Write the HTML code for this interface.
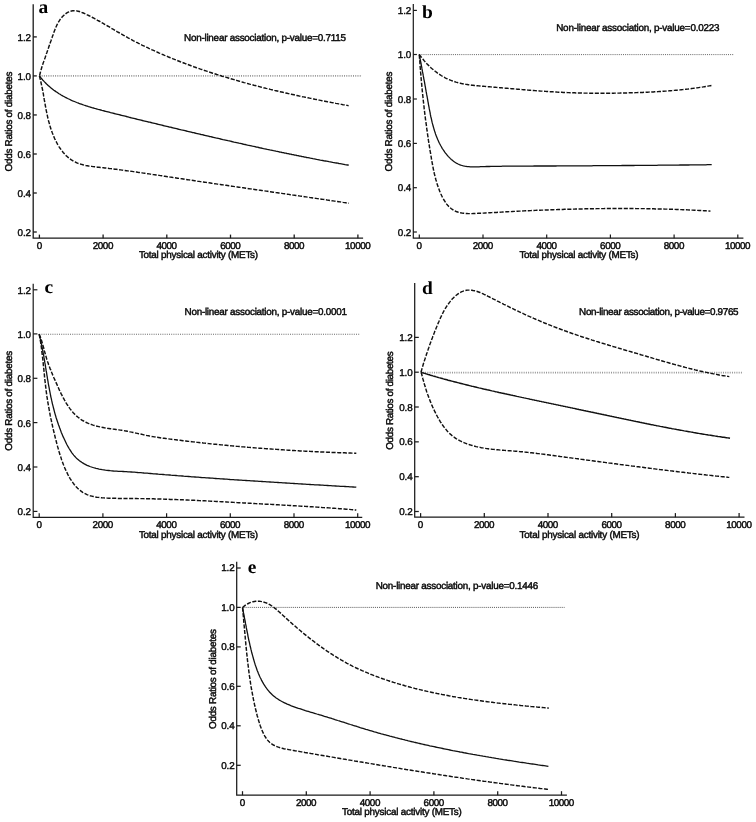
<!DOCTYPE html>
<html lang="en">
<head>
<meta charset="utf-8">
<title>Odds Ratios of diabetes by total physical activity</title>
<style>
html,body{margin:0;padding:0;background:#fff;}
body{width:756px;height:822px;overflow:hidden;}
svg{display:block;}
svg text{text-rendering:geometricPrecision;font-family:"Liberation Sans", Arial, Helvetica, sans-serif;font-size:9.9px;fill:#0a0a0a;stroke:#0a0a0a;stroke-width:.45px;}
svg text.yl{stroke-width:.4px;letter-spacing:-.1px;}
svg text.lt{font-family:"Liberation Serif", "Times New Roman", serif;font-weight:bold;fill:#000;stroke:none;}
</style>
</head>
<body>
<svg width="756" height="822" viewBox="0 0 756 822">
<rect width="756" height="822" fill="#ffffff"/>
<line x1="39.4" y1="75.9" x2="362" y2="75.9" stroke="#969696" stroke-width="1.7" stroke-dasharray="1 1.24"/>
<path d="M33.2,4.2 V238.2 H363.1" fill="none" stroke="#1a1a1a" stroke-width="1.3"/>
<line x1="33.2" y1="36.9" x2="36.800000000000004" y2="36.9" stroke="#1a1a1a" stroke-width="1.3"/>
<text x="31.0" y="40.5" text-anchor="end" class="yl">1.2</text>
<line x1="33.2" y1="75.9" x2="36.800000000000004" y2="75.9" stroke="#1a1a1a" stroke-width="1.3"/>
<text x="31.0" y="79.5" text-anchor="end" class="yl">1.0</text>
<line x1="33.2" y1="114.95" x2="36.800000000000004" y2="114.95" stroke="#1a1a1a" stroke-width="1.3"/>
<text x="31.0" y="118.55" text-anchor="end" class="yl">0.8</text>
<line x1="33.2" y1="154" x2="36.800000000000004" y2="154" stroke="#1a1a1a" stroke-width="1.3"/>
<text x="31.0" y="157.6" text-anchor="end" class="yl">0.6</text>
<line x1="33.2" y1="193" x2="36.800000000000004" y2="193" stroke="#1a1a1a" stroke-width="1.3"/>
<text x="31.0" y="196.6" text-anchor="end" class="yl">0.4</text>
<line x1="33.2" y1="232" x2="36.800000000000004" y2="232" stroke="#1a1a1a" stroke-width="1.3"/>
<text x="31.0" y="235.6" text-anchor="end" class="yl">0.2</text>
<line x1="39.40" y1="238.2" x2="39.40" y2="234.6" stroke="#1a1a1a" stroke-width="1.3"/>
<text x="39.40" y="248.89999999999998" text-anchor="middle" textLength="5.1" lengthAdjust="spacing">0</text>
<line x1="103.10" y1="238.2" x2="103.10" y2="234.6" stroke="#1a1a1a" stroke-width="1.3"/>
<text x="103.10" y="248.89999999999998" text-anchor="middle" textLength="20.6" lengthAdjust="spacing">2000</text>
<line x1="166.80" y1="238.2" x2="166.80" y2="234.6" stroke="#1a1a1a" stroke-width="1.3"/>
<text x="166.80" y="248.89999999999998" text-anchor="middle" textLength="20.6" lengthAdjust="spacing">4000</text>
<line x1="230.50" y1="238.2" x2="230.50" y2="234.6" stroke="#1a1a1a" stroke-width="1.3"/>
<text x="230.50" y="248.89999999999998" text-anchor="middle" textLength="20.6" lengthAdjust="spacing">6000</text>
<line x1="294.20" y1="238.2" x2="294.20" y2="234.6" stroke="#1a1a1a" stroke-width="1.3"/>
<text x="294.20" y="248.89999999999998" text-anchor="middle" textLength="20.6" lengthAdjust="spacing">8000</text>
<line x1="357.90" y1="238.2" x2="357.90" y2="234.6" stroke="#1a1a1a" stroke-width="1.3"/>
<text x="357.90" y="248.89999999999998" text-anchor="middle" textLength="25.6" lengthAdjust="spacing">10000</text>
<text x="198.5" y="258.3" text-anchor="middle" textLength="119.2" lengthAdjust="spacing">Total physical activity (METs)</text>
<text transform="translate(11.9,121.5) rotate(-90)" text-anchor="middle" textLength="100" lengthAdjust="spacing">Odds Ratios of diabetes</text>
<text x="346" y="41.3" text-anchor="end" textLength="162" lengthAdjust="spacing">Non-linear association, p-value=0.7115</text>
<text transform="translate(38.6,12.8) scale(1.05,1)" class="lt" style="font-size:18.5px">a</text>
<path d="M39.4,75.9 L40.2,76.9 L41.0,78.0 L41.9,79.0 L42.7,80.0 L43.6,80.9 L44.5,81.9 L45.4,82.8 L46.3,83.7 L47.2,84.6 L48.1,85.4 L49.1,86.3 L50.0,87.1 L51.0,87.9 L52.0,88.7 L52.9,89.4 L53.9,90.2 L54.9,90.9 L55.9,91.6 L57.0,92.3 L58.0,93.0 L59.0,93.7 L60.1,94.3 L61.1,95.0 L62.2,95.6 L63.3,96.2 L64.4,96.8 L65.4,97.4 L66.5,97.9 L67.6,98.5 L68.8,99.0 L69.9,99.5 L71.0,100.1 L72.1,100.6 L73.3,101.1 L74.4,101.5 L75.6,102.0 L76.7,102.5 L77.9,102.9 L79.0,103.4 L80.2,103.8 L81.4,104.2 L82.6,104.6 L83.7,105.0 L84.9,105.4 L86.1,105.8 L87.3,106.2 L88.5,106.6 L89.7,106.9 L90.9,107.3 L92.1,107.7 L93.3,108.0 L94.6,108.4 L95.8,108.7 L97.0,109.0 L98.2,109.4 L99.4,109.7 L100.7,110.0 L101.9,110.4 L103.1,110.7 L104.3,111.0 L105.6,111.3 L106.8,111.6 L108.0,111.9 L109.2,112.2 L110.5,112.6 L111.7,112.9 L112.9,113.2 L114.2,113.5 L115.4,113.8 L116.6,114.1 L117.8,114.4 L119.1,114.7 L120.3,115.0 L121.5,115.3 L122.7,115.6 L124.0,115.9 L125.2,116.2 L126.4,116.5 L127.7,116.8 L128.9,117.2 L130.1,117.5 L131.3,117.8 L132.5,118.1 L133.8,118.4 L135.0,118.7 L136.2,119.0 L137.4,119.3 L138.7,119.6 L139.9,119.9 L141.1,120.2 L142.3,120.5 L143.6,120.8 L144.8,121.1 L146.0,121.4 L147.2,121.7 L148.5,122.0 L149.7,122.2 L150.9,122.5 L152.1,122.8 L153.3,123.1 L154.6,123.4 L155.8,123.7 L157.0,124.0 L158.2,124.3 L159.5,124.6 L160.7,124.9 L161.9,125.2 L163.1,125.5 L164.3,125.8 L165.6,126.1 L166.8,126.4 L168.0,126.7 L169.2,127.0 L170.4,127.2 L171.7,127.5 L172.9,127.8 L174.1,128.1 L175.3,128.4 L176.6,128.7 L177.8,129.0 L179.0,129.3 L180.2,129.6 L181.4,129.9 L182.7,130.1 L183.9,130.4 L185.1,130.7 L186.3,131.0 L187.6,131.3 L188.8,131.6 L190.0,131.9 L191.2,132.2 L192.4,132.5 L193.7,132.7 L194.9,133.0 L196.1,133.3 L197.3,133.6 L198.6,133.9 L199.8,134.2 L201.0,134.5 L202.2,134.7 L203.5,135.0 L204.7,135.3 L205.9,135.6 L207.1,135.9 L208.4,136.2 L209.6,136.5 L210.8,136.7 L212.0,137.0 L213.3,137.3 L214.5,137.6 L215.7,137.9 L216.9,138.1 L218.2,138.4 L219.4,138.7 L220.6,139.0 L221.8,139.3 L223.1,139.6 L224.3,139.8 L225.5,140.1 L226.7,140.4 L228.0,140.7 L229.2,140.9 L230.4,141.2 L231.7,141.5 L232.9,141.8 L234.1,142.1 L235.3,142.3 L236.6,142.6 L237.8,142.9 L239.0,143.2 L240.2,143.4 L241.5,143.7 L242.7,144.0 L243.9,144.3 L245.2,144.5 L246.4,144.8 L247.6,145.1 L248.8,145.3 L250.1,145.6 L251.3,145.9 L252.5,146.2 L253.8,146.4 L255.0,146.7 L256.2,147.0 L257.5,147.2 L258.7,147.5 L259.9,147.8 L261.1,148.0 L262.4,148.3 L263.6,148.6 L264.8,148.8 L266.1,149.1 L267.3,149.4 L268.5,149.6 L269.8,149.9 L271.0,150.1 L272.2,150.4 L273.5,150.7 L274.7,150.9 L275.9,151.2 L277.1,151.4 L278.4,151.7 L279.6,152.0 L280.8,152.2 L282.1,152.5 L283.3,152.7 L284.5,153.0 L285.8,153.2 L287.0,153.5 L288.2,153.7 L289.5,154.0 L290.7,154.2 L291.9,154.5 L293.2,154.7 L294.4,155.0 L295.6,155.2 L296.9,155.5 L298.1,155.7 L299.3,156.0 L300.6,156.2 L301.8,156.5 L303.0,156.7 L304.3,157.0 L305.5,157.2 L306.7,157.5 L308.0,157.7 L309.2,157.9 L310.4,158.2 L311.7,158.4 L312.9,158.7 L314.2,158.9 L315.4,159.1 L316.6,159.4 L317.9,159.6 L319.1,159.8 L320.3,160.1 L321.6,160.3 L322.8,160.5 L324.0,160.8 L325.3,161.0 L326.5,161.2 L327.8,161.4 L329.0,161.7 L330.2,161.9 L331.5,162.1 L332.7,162.4 L333.9,162.6 L335.2,162.8 L336.4,163.0 L337.7,163.2 L338.9,163.5 L340.1,163.7 L341.4,163.9 L342.6,164.1 L343.8,164.3 L345.1,164.6 L346.3,164.8 L347.6,165.0 L348.8,165.2" fill="none" stroke="#111" stroke-width="1.3"/>
<path d="M39.6,75.6 L39.9,74.2 L40.3,72.8 L40.6,71.4 L41.0,70.1 L41.4,68.7 L41.8,67.3 L42.2,66.0 L42.7,64.6 L43.1,63.3 L43.6,61.9 L44.0,60.5 L44.5,59.2 L45.0,57.9 L45.5,56.5 L46.0,55.2 L46.4,53.8 L46.9,52.5 L47.4,51.1 L47.9,49.8 L48.3,48.4 L48.8,47.1 L49.2,45.7 L49.7,44.4 L50.2,43.1 L50.6,41.7 L51.1,40.4 L51.5,39.0 L52.0,37.7 L52.5,36.3 L53.0,35.0 L53.4,33.7 L53.9,32.3 L54.4,31.0 L54.9,29.7 L55.5,28.3 L56.0,27.0 L56.6,25.7 L57.2,24.4 L57.9,23.1 L58.6,21.9 L59.4,20.7 L60.2,19.4 L61.1,18.3 L62.1,17.1 L63.1,16.0 L64.2,15.0 L65.3,14.0 L66.5,13.1 L67.7,12.4 L69.0,11.8 L70.2,11.3 L71.5,11.0 L72.8,10.8 L74.1,10.7 L75.4,10.8 L76.7,10.9 L78.0,11.2 L79.4,11.5 L80.7,12.0 L82.0,12.5 L83.4,13.0 L84.7,13.6 L86.0,14.2 L87.3,14.9 L88.6,15.5 L90.0,16.2 L91.3,16.9 L92.5,17.5 L93.8,18.2 L95.1,18.9 L96.4,19.6 L97.6,20.3 L98.9,21.0 L100.2,21.7 L101.4,22.4 L102.7,23.1 L103.9,23.8 L105.1,24.6 L106.4,25.3 L107.6,26.0 L108.9,26.7 L110.1,27.4 L111.3,28.2 L112.5,28.9 L113.8,29.6 L115.0,30.3 L116.2,31.0 L117.4,31.8 L118.7,32.5 L119.9,33.2 L121.1,33.9 L122.4,34.6 L123.6,35.3 L124.8,36.0 L126.1,36.7 L127.3,37.4 L128.5,38.1 L129.8,38.8 L131.0,39.4 L132.3,40.1 L133.5,40.8 L134.8,41.4 L136.1,42.1 L137.3,42.7 L138.6,43.4 L139.9,44.0 L141.2,44.6 L142.4,45.3 L143.7,45.9 L145.0,46.5 L146.3,47.1 L147.6,47.7 L148.9,48.4 L150.2,49.0 L151.5,49.6 L152.8,50.1 L154.1,50.7 L155.4,51.3 L156.7,51.9 L158.0,52.5 L159.3,53.1 L160.6,53.6 L161.9,54.2 L163.2,54.7 L164.5,55.3 L165.9,55.9 L167.2,56.4 L168.5,57.0 L169.8,57.5 L171.1,58.0 L172.5,58.6 L173.8,59.1 L175.1,59.6 L176.5,60.2 L177.8,60.7 L179.1,61.2 L180.4,61.7 L181.8,62.2 L183.1,62.7 L184.4,63.2 L185.8,63.8 L187.1,64.3 L188.5,64.7 L189.8,65.2 L191.1,65.7 L192.5,66.2 L193.8,66.7 L195.2,67.2 L196.5,67.7 L197.9,68.1 L199.2,68.6 L200.5,69.1 L201.9,69.5 L203.2,70.0 L204.6,70.5 L205.9,70.9 L207.3,71.4 L208.7,71.8 L210.0,72.3 L211.4,72.7 L212.7,73.2 L214.1,73.6 L215.4,74.0 L216.8,74.5 L218.2,74.9 L219.5,75.3 L220.9,75.7 L222.2,76.2 L223.6,76.6 L225.0,77.0 L226.3,77.4 L227.7,77.8 L229.1,78.2 L230.4,78.6 L231.8,79.0 L233.2,79.4 L234.5,79.8 L235.9,80.2 L237.3,80.6 L238.6,81.0 L240.0,81.4 L241.4,81.8 L242.8,82.2 L244.1,82.6 L245.5,82.9 L246.9,83.3 L248.3,83.7 L249.6,84.1 L251.0,84.4 L252.4,84.8 L253.8,85.2 L255.2,85.5 L256.5,85.9 L257.9,86.2 L259.3,86.6 L260.7,87.0 L262.1,87.3 L263.5,87.7 L264.8,88.0 L266.2,88.4 L267.6,88.7 L269.0,89.0 L270.4,89.4 L271.8,89.7 L273.2,90.0 L274.5,90.4 L275.9,90.7 L277.3,91.0 L278.7,91.4 L280.1,91.7 L281.5,92.0 L282.9,92.3 L284.3,92.7 L285.7,93.0 L287.1,93.3 L288.4,93.6 L289.8,93.9 L291.2,94.2 L292.6,94.5 L294.0,94.8 L295.4,95.2 L296.8,95.5 L298.2,95.8 L299.6,96.1 L301.0,96.4 L302.4,96.7 L303.8,96.9 L305.2,97.2 L306.6,97.5 L308.0,97.8 L309.4,98.1 L310.8,98.4 L312.2,98.7 L313.6,99.0 L315.0,99.3 L316.4,99.5 L317.8,99.8 L319.2,100.1 L320.6,100.4 L322.0,100.7 L323.4,100.9 L324.8,101.2 L326.2,101.5 L327.6,101.8 L329.0,102.0 L330.4,102.3 L331.8,102.6 L333.2,102.8 L334.6,103.1 L336.0,103.4 L337.4,103.6 L338.8,103.9 L340.2,104.1 L341.6,104.4 L343.0,104.7 L344.4,104.9 L345.8,105.2 L347.2,105.4 L348.6,105.7" fill="none" stroke="#111" stroke-width="1.45" stroke-dasharray="4.1 1.55"/>
<path d="M39.4,75.9 L39.8,77.3 L40.1,78.7 L40.5,80.1 L40.8,81.5 L41.1,83.0 L41.4,84.4 L41.7,85.8 L42.0,87.2 L42.3,88.6 L42.6,90.0 L42.8,91.4 L43.1,92.8 L43.4,94.2 L43.6,95.7 L43.9,97.1 L44.1,98.5 L44.3,99.9 L44.6,101.3 L44.8,102.7 L45.1,104.1 L45.3,105.5 L45.6,106.9 L45.9,108.3 L46.1,109.8 L46.4,111.2 L46.7,112.6 L47.0,114.0 L47.3,115.4 L47.6,116.8 L47.9,118.2 L48.3,119.6 L48.6,121.0 L49.0,122.4 L49.4,123.8 L49.8,125.2 L50.2,126.7 L50.6,128.1 L51.1,129.5 L51.6,130.9 L52.1,132.3 L52.6,133.6 L53.2,135.0 L53.7,136.4 L54.3,137.7 L54.9,139.1 L55.6,140.4 L56.2,141.7 L56.9,143.0 L57.6,144.3 L58.3,145.5 L59.1,146.8 L59.9,148.0 L60.7,149.1 L61.5,150.3 L62.4,151.4 L63.2,152.5 L64.2,153.6 L65.1,154.6 L66.1,155.6 L67.1,156.5 L68.1,157.4 L69.2,158.3 L70.3,159.1 L71.4,159.9 L72.6,160.6 L73.7,161.3 L75.0,161.9 L76.2,162.5 L77.5,163.1 L78.8,163.6 L80.2,164.0 L81.5,164.4 L82.9,164.8 L84.3,165.2 L85.8,165.5 L87.2,165.7 L88.7,166.0 L90.1,166.2 L91.6,166.4 L93.1,166.6 L94.6,166.8 L96.1,167.0 L97.6,167.2 L99.0,167.3 L100.5,167.5 L102.0,167.6 L103.5,167.8 L104.9,168.0 L106.4,168.1 L107.8,168.3 L109.2,168.5 L110.7,168.6 L112.1,168.8 L113.5,169.0 L115.0,169.2 L116.4,169.3 L117.8,169.5 L119.2,169.7 L120.6,169.9 L122.1,170.1 L123.5,170.3 L124.9,170.5 L126.3,170.7 L127.7,170.9 L129.2,171.0 L130.6,171.2 L132.0,171.4 L133.4,171.6 L134.8,171.8 L136.3,172.0 L137.7,172.3 L139.1,172.5 L140.5,172.7 L142.0,172.9 L143.4,173.1 L144.8,173.3 L146.2,173.5 L147.7,173.7 L149.1,173.9 L150.5,174.1 L151.9,174.3 L153.4,174.6 L154.8,174.8 L156.2,175.0 L157.6,175.2 L159.1,175.4 L160.5,175.6 L161.9,175.8 L163.3,176.1 L164.8,176.3 L166.2,176.5 L167.6,176.7 L169.0,176.9 L170.5,177.1 L171.9,177.3 L173.3,177.6 L174.8,177.8 L176.2,178.0 L177.6,178.2 L179.0,178.4 L180.5,178.6 L181.9,178.8 L183.3,179.0 L184.7,179.3 L186.2,179.5 L187.6,179.7 L189.0,179.9 L190.4,180.1 L191.9,180.3 L193.3,180.5 L194.7,180.7 L196.1,180.9 L197.6,181.2 L199.0,181.4 L200.4,181.6 L201.9,181.8 L203.3,182.0 L204.7,182.2 L206.1,182.4 L207.6,182.6 L209.0,182.8 L210.4,183.0 L211.8,183.3 L213.3,183.5 L214.7,183.7 L216.1,183.9 L217.5,184.1 L219.0,184.3 L220.4,184.5 L221.8,184.7 L223.3,184.9 L224.7,185.1 L226.1,185.3 L227.5,185.5 L229.0,185.8 L230.4,186.0 L231.8,186.2 L233.2,186.4 L234.7,186.6 L236.1,186.8 L237.5,187.0 L238.9,187.2 L240.4,187.4 L241.8,187.6 L243.2,187.8 L244.7,188.0 L246.1,188.2 L247.5,188.5 L248.9,188.7 L250.4,188.9 L251.8,189.1 L253.2,189.3 L254.6,189.5 L256.1,189.7 L257.5,189.9 L258.9,190.1 L260.4,190.3 L261.8,190.5 L263.2,190.7 L264.6,190.9 L266.1,191.1 L267.5,191.3 L268.9,191.6 L270.3,191.8 L271.8,192.0 L273.2,192.2 L274.6,192.4 L276.0,192.6 L277.5,192.8 L278.9,193.0 L280.3,193.2 L281.8,193.4 L283.2,193.6 L284.6,193.8 L286.0,194.0 L287.5,194.2 L288.9,194.4 L290.3,194.7 L291.7,194.9 L293.2,195.1 L294.6,195.3 L296.0,195.5 L297.4,195.7 L298.9,195.9 L300.3,196.1 L301.7,196.3 L303.2,196.5 L304.6,196.7 L306.0,196.9 L307.4,197.1 L308.9,197.3 L310.3,197.6 L311.7,197.8 L313.1,198.0 L314.6,198.2 L316.0,198.4 L317.4,198.6 L318.8,198.8 L320.3,199.0 L321.7,199.2 L323.1,199.4 L324.5,199.6 L326.0,199.8 L327.4,200.1 L328.8,200.3 L330.3,200.5 L331.7,200.7 L333.1,200.9 L334.5,201.1 L336.0,201.3 L337.4,201.5 L338.8,201.7 L340.2,201.9 L341.7,202.1 L343.1,202.4 L344.5,202.6 L345.9,202.8 L347.4,203.0 L348.8,203.2" fill="none" stroke="#111" stroke-width="1.45" stroke-dasharray="4.1 1.55"/>
<line x1="419.3" y1="54.6" x2="733.3" y2="54.6" stroke="#666" stroke-width="1.0" stroke-dasharray="1 1.1"/>
<path d="M413.3,4.0 V238.2 H743.4" fill="none" stroke="#1a1a1a" stroke-width="1.2"/>
<line x1="413.3" y1="10.4" x2="416.90000000000003" y2="10.4" stroke="#1a1a1a" stroke-width="1.2"/>
<text x="411.2" y="14.0" text-anchor="end" class="yl">1.2</text>
<line x1="413.3" y1="54.5" x2="416.90000000000003" y2="54.5" stroke="#1a1a1a" stroke-width="1.2"/>
<text x="411.2" y="58.1" text-anchor="end" class="yl">1.0</text>
<line x1="413.3" y1="99.0" x2="416.90000000000003" y2="99.0" stroke="#1a1a1a" stroke-width="1.2"/>
<text x="411.2" y="102.6" text-anchor="end" class="yl">0.8</text>
<line x1="413.3" y1="143.4" x2="416.90000000000003" y2="143.4" stroke="#1a1a1a" stroke-width="1.2"/>
<text x="411.2" y="147.0" text-anchor="end" class="yl">0.6</text>
<line x1="413.3" y1="187.7" x2="416.90000000000003" y2="187.7" stroke="#1a1a1a" stroke-width="1.2"/>
<text x="411.2" y="191.29999999999998" text-anchor="end" class="yl">0.4</text>
<line x1="413.3" y1="232" x2="416.90000000000003" y2="232" stroke="#1a1a1a" stroke-width="1.2"/>
<text x="411.2" y="235.6" text-anchor="end" class="yl">0.2</text>
<line x1="419.30" y1="238.2" x2="419.30" y2="234.6" stroke="#1a1a1a" stroke-width="1.2"/>
<text x="419.30" y="248.89999999999998" text-anchor="middle" textLength="5.1" lengthAdjust="spacing">0</text>
<line x1="483.00" y1="238.2" x2="483.00" y2="234.6" stroke="#1a1a1a" stroke-width="1.2"/>
<text x="483.00" y="248.89999999999998" text-anchor="middle" textLength="20.6" lengthAdjust="spacing">2000</text>
<line x1="546.70" y1="238.2" x2="546.70" y2="234.6" stroke="#1a1a1a" stroke-width="1.2"/>
<text x="546.70" y="248.89999999999998" text-anchor="middle" textLength="20.6" lengthAdjust="spacing">4000</text>
<line x1="610.40" y1="238.2" x2="610.40" y2="234.6" stroke="#1a1a1a" stroke-width="1.2"/>
<text x="610.40" y="248.89999999999998" text-anchor="middle" textLength="20.6" lengthAdjust="spacing">6000</text>
<line x1="674.10" y1="238.2" x2="674.10" y2="234.6" stroke="#1a1a1a" stroke-width="1.2"/>
<text x="674.10" y="248.89999999999998" text-anchor="middle" textLength="20.6" lengthAdjust="spacing">8000</text>
<line x1="737.80" y1="238.2" x2="737.80" y2="234.6" stroke="#1a1a1a" stroke-width="1.2"/>
<text x="737.80" y="248.89999999999998" text-anchor="middle" textLength="25.6" lengthAdjust="spacing">10000</text>
<text x="579" y="258.3" text-anchor="middle" textLength="119.2" lengthAdjust="spacing">Total physical activity (METs)</text>
<text transform="translate(391.9,121.5) rotate(-90)" text-anchor="middle" textLength="100" lengthAdjust="spacing">Odds Ratios of diabetes</text>
<text x="719.5" y="31.0" text-anchor="end" textLength="163.3" lengthAdjust="spacing">Non-linear association, p-value=0.0223</text>
<text transform="translate(422,17.6) scale(1.05,1)" class="lt" style="font-size:18.5px">b</text>
<path d="M419.3,54.6 L419.6,56.0 L419.9,57.5 L420.1,58.9 L420.4,60.4 L420.7,61.8 L421.0,63.2 L421.2,64.6 L421.5,66.1 L421.8,67.5 L422.0,68.9 L422.3,70.3 L422.5,71.7 L422.8,73.1 L423.1,74.5 L423.3,75.9 L423.6,77.3 L423.8,78.8 L424.1,80.2 L424.4,81.6 L424.6,83.0 L424.9,84.4 L425.1,85.8 L425.4,87.2 L425.6,88.6 L425.9,90.0 L426.1,91.4 L426.4,92.8 L426.6,94.2 L426.9,95.6 L427.2,97.0 L427.4,98.5 L427.7,99.9 L427.9,101.3 L428.2,102.7 L428.4,104.1 L428.7,105.6 L429.0,107.0 L429.2,108.4 L429.5,109.9 L429.8,111.3 L430.1,112.7 L430.3,114.2 L430.6,115.6 L430.9,117.0 L431.3,118.5 L431.6,119.9 L431.9,121.3 L432.2,122.7 L432.6,124.1 L433.0,125.5 L433.4,127.0 L433.8,128.4 L434.2,129.8 L434.6,131.1 L435.1,132.5 L435.5,133.9 L436.0,135.2 L436.5,136.6 L437.1,137.9 L437.6,139.3 L438.2,140.6 L438.8,141.9 L439.4,143.2 L440.1,144.5 L440.8,145.8 L441.5,147.0 L442.2,148.3 L443.0,149.5 L443.8,150.7 L444.6,151.9 L445.5,153.1 L446.4,154.2 L447.3,155.3 L448.2,156.4 L449.2,157.4 L450.2,158.4 L451.3,159.4 L452.4,160.3 L453.5,161.2 L454.6,162.0 L455.7,162.7 L456.9,163.4 L458.1,164.0 L459.4,164.6 L460.7,165.1 L462.0,165.5 L463.3,165.9 L464.7,166.2 L466.0,166.4 L467.4,166.6 L468.9,166.7 L470.3,166.8 L471.7,166.9 L473.2,166.9 L474.7,166.9 L476.1,166.9 L477.6,166.8 L479.1,166.8 L480.6,166.7 L482.0,166.7 L483.5,166.6 L485.0,166.6 L486.5,166.5 L487.9,166.5 L489.4,166.5 L490.9,166.4 L492.3,166.4 L493.8,166.4 L495.2,166.3 L496.7,166.3 L498.2,166.3 L499.6,166.3 L501.1,166.3 L502.5,166.2 L504.0,166.2 L505.4,166.2 L506.8,166.2 L508.3,166.2 L509.7,166.2 L511.2,166.2 L512.6,166.1 L514.1,166.1 L515.5,166.1 L516.9,166.1 L518.4,166.1 L519.8,166.1 L521.3,166.1 L522.7,166.1 L524.1,166.1 L525.6,166.1 L527.0,166.1 L528.4,166.1 L529.9,166.1 L531.3,166.1 L532.8,166.1 L534.2,166.0 L535.6,166.0 L537.1,166.0 L538.5,166.0 L540.0,166.0 L541.4,166.0 L542.8,166.0 L544.3,166.0 L545.7,166.0 L547.2,166.0 L548.6,166.0 L550.0,166.0 L551.5,166.0 L552.9,166.0 L554.4,166.0 L555.8,166.0 L557.2,165.9 L558.7,165.9 L560.1,165.9 L561.6,165.9 L563.0,165.9 L564.5,165.9 L565.9,165.9 L567.3,165.9 L568.8,165.9 L570.2,165.9 L571.7,165.9 L573.1,165.9 L574.5,165.9 L576.0,165.8 L577.4,165.8 L578.9,165.8 L580.3,165.8 L581.8,165.8 L583.2,165.8 L584.7,165.8 L586.1,165.8 L587.5,165.8 L589.0,165.8 L590.4,165.8 L591.9,165.8 L593.3,165.7 L594.8,165.7 L596.2,165.7 L597.6,165.7 L599.1,165.7 L600.5,165.7 L602.0,165.7 L603.4,165.7 L604.9,165.7 L606.3,165.7 L607.8,165.6 L609.2,165.6 L610.6,165.6 L612.1,165.6 L613.5,165.6 L615.0,165.6 L616.4,165.6 L617.9,165.6 L619.3,165.6 L620.8,165.6 L622.2,165.5 L623.6,165.5 L625.1,165.5 L626.5,165.5 L628.0,165.5 L629.4,165.5 L630.9,165.5 L632.3,165.5 L633.8,165.5 L635.2,165.4 L636.6,165.4 L638.1,165.4 L639.5,165.4 L641.0,165.4 L642.4,165.4 L643.9,165.4 L645.3,165.4 L646.8,165.3 L648.2,165.3 L649.7,165.3 L651.1,165.3 L652.5,165.3 L654.0,165.3 L655.4,165.3 L656.9,165.3 L658.3,165.2 L659.8,165.2 L661.2,165.2 L662.6,165.2 L664.1,165.2 L665.5,165.2 L667.0,165.2 L668.4,165.2 L669.9,165.1 L671.3,165.1 L672.8,165.1 L674.2,165.1 L675.6,165.1 L677.1,165.1 L678.5,165.1 L680.0,165.0 L681.4,165.0 L682.9,165.0 L684.3,165.0 L685.7,165.0 L687.2,165.0 L688.6,165.0 L690.1,164.9 L691.5,164.9 L693.0,164.9 L694.4,164.9 L695.8,164.9 L697.3,164.9 L698.7,164.8 L700.2,164.8 L701.6,164.8 L703.1,164.8 L704.5,164.8 L705.9,164.8 L707.4,164.7 L708.8,164.7 L710.3,164.7 L711.7,164.7" fill="none" stroke="#111" stroke-width="1.3"/>
<path d="M419.2,54.4 L419.9,55.4 L420.6,56.3 L421.3,57.2 L422.0,58.2 L422.8,59.1 L423.6,60.0 L424.3,60.9 L425.1,61.8 L425.9,62.7 L426.7,63.6 L427.5,64.4 L428.4,65.2 L429.2,66.1 L430.1,66.9 L430.9,67.7 L431.8,68.5 L432.7,69.2 L433.6,70.0 L434.5,70.7 L435.4,71.5 L436.4,72.2 L437.3,72.9 L438.3,73.5 L439.2,74.2 L440.2,74.8 L441.2,75.5 L442.2,76.1 L443.2,76.6 L444.2,77.2 L445.2,77.8 L446.2,78.3 L447.3,78.8 L448.3,79.3 L449.4,79.7 L450.4,80.2 L451.5,80.6 L452.6,81.0 L453.7,81.4 L454.8,81.7 L455.9,82.1 L457.0,82.4 L458.1,82.7 L459.2,83.0 L460.3,83.2 L461.5,83.5 L462.6,83.7 L463.7,84.0 L464.9,84.2 L466.0,84.4 L467.2,84.5 L468.3,84.7 L469.5,84.9 L470.7,85.0 L471.8,85.2 L473.0,85.3 L474.2,85.5 L475.3,85.6 L476.5,85.7 L477.7,85.8 L478.9,85.9 L480.0,86.0 L481.2,86.1 L482.4,86.2 L483.6,86.3 L484.8,86.4 L485.9,86.5 L487.1,86.6 L488.3,86.7 L489.5,86.8 L490.7,86.9 L491.8,87.0 L493.0,87.1 L494.2,87.2 L495.4,87.3 L496.5,87.4 L497.7,87.5 L498.9,87.6 L500.1,87.7 L501.2,87.8 L502.4,87.9 L503.6,88.0 L504.7,88.1 L505.9,88.2 L507.1,88.3 L508.2,88.4 L509.4,88.5 L510.6,88.6 L511.8,88.7 L512.9,88.8 L514.1,88.9 L515.3,89.0 L516.4,89.1 L517.6,89.2 L518.8,89.3 L519.9,89.4 L521.1,89.5 L522.3,89.6 L523.4,89.7 L524.6,89.8 L525.8,89.9 L526.9,90.0 L528.1,90.1 L529.3,90.2 L530.4,90.3 L531.6,90.4 L532.8,90.5 L533.9,90.5 L535.1,90.6 L536.2,90.7 L537.4,90.8 L538.6,90.9 L539.7,91.0 L540.9,91.1 L542.1,91.1 L543.2,91.2 L544.4,91.3 L545.6,91.4 L546.7,91.5 L547.9,91.5 L549.1,91.6 L550.2,91.7 L551.4,91.8 L552.6,91.8 L553.7,91.9 L554.9,92.0 L556.1,92.0 L557.2,92.1 L558.4,92.2 L559.6,92.2 L560.7,92.3 L561.9,92.3 L563.1,92.4 L564.2,92.4 L565.4,92.5 L566.6,92.5 L567.7,92.6 L568.9,92.6 L570.1,92.7 L571.3,92.7 L572.4,92.8 L573.6,92.8 L574.8,92.8 L575.9,92.9 L577.1,92.9 L578.3,92.9 L579.5,93.0 L580.6,93.0 L581.8,93.0 L583.0,93.1 L584.1,93.1 L585.3,93.1 L586.5,93.1 L587.7,93.1 L588.8,93.2 L590.0,93.2 L591.2,93.2 L592.4,93.2 L593.5,93.2 L594.7,93.2 L595.9,93.2 L597.0,93.2 L598.2,93.2 L599.4,93.2 L600.6,93.2 L601.7,93.2 L602.9,93.2 L604.1,93.2 L605.3,93.2 L606.4,93.2 L607.6,93.2 L608.8,93.2 L610.0,93.2 L611.1,93.2 L612.3,93.2 L613.5,93.2 L614.7,93.1 L615.8,93.1 L617.0,93.1 L618.2,93.1 L619.3,93.1 L620.5,93.0 L621.7,93.0 L622.9,93.0 L624.0,93.0 L625.2,92.9 L626.4,92.9 L627.6,92.9 L628.7,92.8 L629.9,92.8 L631.1,92.8 L632.2,92.7 L633.4,92.7 L634.6,92.7 L635.8,92.6 L636.9,92.6 L638.1,92.5 L639.3,92.5 L640.4,92.5 L641.6,92.4 L642.8,92.4 L644.0,92.3 L645.1,92.3 L646.3,92.2 L647.5,92.2 L648.6,92.1 L649.8,92.0 L651.0,92.0 L652.1,91.9 L653.3,91.9 L654.5,91.8 L655.7,91.7 L656.8,91.7 L658.0,91.6 L659.2,91.5 L660.3,91.5 L661.5,91.4 L662.7,91.3 L663.8,91.2 L665.0,91.1 L666.2,91.1 L667.3,91.0 L668.5,90.9 L669.7,90.8 L670.8,90.7 L672.0,90.6 L673.1,90.5 L674.3,90.4 L675.5,90.3 L676.6,90.2 L677.8,90.1 L679.0,90.0 L680.1,89.9 L681.3,89.7 L682.5,89.6 L683.6,89.5 L684.8,89.4 L686.0,89.2 L687.1,89.1 L688.3,89.0 L689.4,88.8 L690.6,88.7 L691.8,88.5 L692.9,88.4 L694.1,88.2 L695.3,88.1 L696.4,87.9 L697.6,87.8 L698.7,87.6 L699.9,87.4 L701.1,87.2 L702.2,87.1 L703.4,86.9 L704.5,86.7 L705.7,86.5 L706.9,86.3 L708.0,86.1 L709.2,85.9 L710.3,85.7 L711.5,85.5" fill="none" stroke="#111" stroke-width="1.45" stroke-dasharray="4.1 1.55"/>
<path d="M419.3,54.6 L419.4,56.2 L419.5,57.8 L419.6,59.4 L419.8,61.1 L419.9,62.7 L420.0,64.3 L420.1,65.9 L420.2,67.5 L420.4,69.1 L420.5,70.7 L420.6,72.4 L420.8,74.0 L420.9,75.6 L421.0,77.2 L421.2,78.8 L421.3,80.4 L421.5,82.1 L421.6,83.7 L421.8,85.3 L421.9,86.9 L422.1,88.5 L422.2,90.2 L422.4,91.8 L422.6,93.4 L422.7,95.0 L422.9,96.6 L423.1,98.3 L423.2,99.9 L423.4,101.5 L423.6,103.1 L423.8,104.7 L424.0,106.3 L424.1,108.0 L424.3,109.6 L424.5,111.2 L424.7,112.8 L424.9,114.4 L425.1,116.0 L425.3,117.6 L425.5,119.3 L425.7,120.9 L425.9,122.5 L426.2,124.1 L426.4,125.7 L426.6,127.3 L426.8,128.9 L427.0,130.5 L427.3,132.1 L427.5,133.7 L427.7,135.3 L428.0,136.9 L428.2,138.5 L428.4,140.2 L428.7,141.8 L428.9,143.4 L429.2,144.9 L429.4,146.5 L429.7,148.1 L429.9,149.7 L430.2,151.3 L430.5,152.9 L430.7,154.5 L431.0,156.1 L431.3,157.7 L431.5,159.3 L431.8,160.9 L432.1,162.4 L432.4,164.0 L432.7,165.6 L433.0,167.2 L433.3,168.8 L433.6,170.3 L434.0,171.9 L434.3,173.5 L434.7,175.1 L435.1,176.7 L435.5,178.2 L435.9,179.8 L436.4,181.4 L436.8,183.0 L437.3,184.5 L437.8,186.1 L438.4,187.7 L439.0,189.3 L439.6,190.9 L440.2,192.4 L440.9,194.0 L441.6,195.5 L442.4,197.1 L443.2,198.6 L444.0,200.0 L444.9,201.4 L445.8,202.8 L446.7,204.1 L447.7,205.3 L448.8,206.5 L449.9,207.5 L451.1,208.5 L452.3,209.4 L453.5,210.2 L454.8,210.9 L456.2,211.5 L457.6,212.0 L459.1,212.5 L460.6,212.8 L462.1,213.1 L463.7,213.3 L465.3,213.4 L466.9,213.5 L468.5,213.6 L470.1,213.6 L471.8,213.6 L473.5,213.5 L475.1,213.5 L476.8,213.4 L478.5,213.3 L480.1,213.2 L481.8,213.2 L483.4,213.1 L485.1,213.0 L486.7,212.9 L488.3,212.8 L490.0,212.7 L491.6,212.6 L493.2,212.5 L494.8,212.4 L496.5,212.4 L498.1,212.3 L499.7,212.2 L501.3,212.1 L502.9,212.0 L504.5,211.9 L506.2,211.8 L507.8,211.7 L509.4,211.6 L511.0,211.6 L512.6,211.5 L514.2,211.4 L515.9,211.3 L517.5,211.2 L519.1,211.1 L520.7,211.1 L522.3,211.0 L524.0,210.9 L525.6,210.8 L527.2,210.8 L528.8,210.7 L530.4,210.6 L532.0,210.5 L533.7,210.5 L535.3,210.4 L536.9,210.3 L538.5,210.3 L540.1,210.2 L541.8,210.1 L543.4,210.1 L545.0,210.0 L546.6,209.9 L548.2,209.9 L549.9,209.8 L551.5,209.8 L553.1,209.7 L554.7,209.6 L556.4,209.6 L558.0,209.5 L559.6,209.5 L561.2,209.4 L562.8,209.4 L564.5,209.3 L566.1,209.3 L567.7,209.2 L569.3,209.2 L571.0,209.2 L572.6,209.1 L574.2,209.1 L575.8,209.0 L577.4,209.0 L579.1,209.0 L580.7,208.9 L582.3,208.9 L583.9,208.9 L585.6,208.8 L587.2,208.8 L588.8,208.8 L590.4,208.7 L592.1,208.7 L593.7,208.7 L595.3,208.7 L596.9,208.6 L598.5,208.6 L600.2,208.6 L601.8,208.6 L603.4,208.6 L605.0,208.5 L606.7,208.5 L608.3,208.5 L609.9,208.5 L611.5,208.5 L613.2,208.5 L614.8,208.5 L616.4,208.5 L618.0,208.5 L619.7,208.5 L621.3,208.5 L622.9,208.5 L624.5,208.5 L626.2,208.5 L627.8,208.5 L629.4,208.5 L631.0,208.5 L632.6,208.5 L634.3,208.5 L635.9,208.6 L637.5,208.6 L639.1,208.6 L640.8,208.6 L642.4,208.6 L644.0,208.6 L645.6,208.7 L647.3,208.7 L648.9,208.7 L650.5,208.8 L652.1,208.8 L653.8,208.8 L655.4,208.9 L657.0,208.9 L658.6,208.9 L660.2,209.0 L661.9,209.0 L663.5,209.0 L665.1,209.1 L666.7,209.1 L668.4,209.2 L670.0,209.2 L671.6,209.3 L673.2,209.3 L674.8,209.4 L676.5,209.5 L678.1,209.5 L679.7,209.6 L681.3,209.6 L683.0,209.7 L684.6,209.8 L686.2,209.8 L687.8,209.9 L689.4,210.0 L691.1,210.1 L692.7,210.1 L694.3,210.2 L695.9,210.3 L697.5,210.4 L699.2,210.5 L700.8,210.5 L702.4,210.6 L704.0,210.7 L705.6,210.8 L707.3,210.9 L708.9,211.0 L710.5,211.1" fill="none" stroke="#111" stroke-width="1.45" stroke-dasharray="4.1 1.55"/>
<line x1="39.2" y1="334.3" x2="360" y2="334.3" stroke="#6a6a6a" stroke-width="1.1" stroke-dasharray="1 1.2"/>
<path d="M33.2,283.75 V517.4 H362.25" fill="none" stroke="#1a1a1a" stroke-width="1.2"/>
<line x1="33.2" y1="289.8" x2="37.400000000000006" y2="289.8" stroke="#1a1a1a" stroke-width="1.2"/>
<text x="31.0" y="293.7" text-anchor="end" class="yl">1.2</text>
<line x1="33.2" y1="333.9" x2="37.400000000000006" y2="333.9" stroke="#1a1a1a" stroke-width="1.2"/>
<text x="31.0" y="337.79999999999995" text-anchor="end" class="yl">1.0</text>
<line x1="33.2" y1="378.3" x2="37.400000000000006" y2="378.3" stroke="#1a1a1a" stroke-width="1.2"/>
<text x="31.0" y="382.2" text-anchor="end" class="yl">0.8</text>
<line x1="33.2" y1="422.6" x2="37.400000000000006" y2="422.6" stroke="#1a1a1a" stroke-width="1.2"/>
<text x="31.0" y="426.5" text-anchor="end" class="yl">0.6</text>
<line x1="33.2" y1="467" x2="37.400000000000006" y2="467" stroke="#1a1a1a" stroke-width="1.2"/>
<text x="31.0" y="470.9" text-anchor="end" class="yl">0.4</text>
<line x1="33.2" y1="511.4" x2="37.400000000000006" y2="511.4" stroke="#1a1a1a" stroke-width="1.2"/>
<text x="31.0" y="515.3" text-anchor="end" class="yl">0.2</text>
<line x1="39.20" y1="517.4" x2="39.20" y2="513.1999999999999" stroke="#1a1a1a" stroke-width="1.2"/>
<text x="39.20" y="527.9" text-anchor="middle" textLength="5.1" lengthAdjust="spacing">0</text>
<line x1="102.90" y1="517.4" x2="102.90" y2="513.1999999999999" stroke="#1a1a1a" stroke-width="1.2"/>
<text x="102.90" y="527.9" text-anchor="middle" textLength="20.6" lengthAdjust="spacing">2000</text>
<line x1="166.60" y1="517.4" x2="166.60" y2="513.1999999999999" stroke="#1a1a1a" stroke-width="1.2"/>
<text x="166.60" y="527.9" text-anchor="middle" textLength="20.6" lengthAdjust="spacing">4000</text>
<line x1="230.30" y1="517.4" x2="230.30" y2="513.1999999999999" stroke="#1a1a1a" stroke-width="1.2"/>
<text x="230.30" y="527.9" text-anchor="middle" textLength="20.6" lengthAdjust="spacing">6000</text>
<line x1="294.00" y1="517.4" x2="294.00" y2="513.1999999999999" stroke="#1a1a1a" stroke-width="1.2"/>
<text x="294.00" y="527.9" text-anchor="middle" textLength="20.6" lengthAdjust="spacing">8000</text>
<line x1="357.70" y1="517.4" x2="357.70" y2="513.1999999999999" stroke="#1a1a1a" stroke-width="1.2"/>
<text x="357.70" y="527.9" text-anchor="middle" textLength="25.6" lengthAdjust="spacing">10000</text>
<text x="198.5" y="537.5" text-anchor="middle" textLength="119.2" lengthAdjust="spacing">Total physical activity (METs)</text>
<text transform="translate(11.9,400.8) rotate(-90)" text-anchor="middle" textLength="100" lengthAdjust="spacing">Odds Ratios of diabetes</text>
<text x="346.9" y="315.1" text-anchor="end" textLength="162.4" lengthAdjust="spacing">Non-linear association, p-value=0.0001</text>
<text transform="translate(44.5,292.5) scale(1.05,1)" class="lt" style="font-size:18.5px">c</text>
<path d="M39.2,334.2 L39.6,335.8 L40.0,337.3 L40.3,338.9 L40.7,340.4 L41.0,342.0 L41.3,343.5 L41.7,345.1 L42.0,346.7 L42.3,348.3 L42.6,349.8 L42.9,351.4 L43.2,353.0 L43.5,354.6 L43.8,356.1 L44.0,357.7 L44.3,359.3 L44.6,360.9 L44.8,362.4 L45.1,364.0 L45.4,365.6 L45.6,367.2 L45.9,368.8 L46.1,370.4 L46.4,371.9 L46.7,373.5 L46.9,375.1 L47.2,376.7 L47.4,378.3 L47.7,379.8 L48.0,381.4 L48.2,383.0 L48.5,384.6 L48.8,386.1 L49.1,387.7 L49.4,389.3 L49.7,390.9 L50.0,392.4 L50.3,394.0 L50.6,395.5 L50.9,397.1 L51.3,398.7 L51.6,400.2 L52.0,401.8 L52.3,403.3 L52.7,404.9 L53.1,406.4 L53.5,408.0 L53.9,409.5 L54.3,411.1 L54.7,412.6 L55.1,414.1 L55.6,415.7 L56.0,417.2 L56.5,418.7 L57.0,420.2 L57.5,421.8 L58.0,423.3 L58.5,424.8 L59.1,426.3 L59.6,427.8 L60.2,429.3 L60.8,430.9 L61.3,432.4 L62.0,433.9 L62.6,435.4 L63.2,436.9 L63.9,438.3 L64.6,439.8 L65.3,441.3 L66.0,442.8 L66.7,444.3 L67.5,445.7 L68.3,447.1 L69.1,448.5 L70.0,449.9 L70.8,451.2 L71.7,452.6 L72.7,453.8 L73.7,455.1 L74.7,456.3 L75.7,457.4 L76.8,458.5 L78.0,459.5 L79.2,460.5 L80.4,461.4 L81.7,462.3 L83.0,463.1 L84.3,463.9 L85.7,464.6 L87.1,465.3 L88.5,465.9 L89.9,466.5 L91.4,467.0 L92.9,467.5 L94.5,468.0 L96.0,468.4 L97.5,468.7 L99.1,469.1 L100.7,469.4 L102.3,469.7 L103.8,469.9 L105.4,470.2 L107.0,470.4 L108.6,470.5 L110.3,470.7 L111.9,470.8 L113.5,471.0 L115.1,471.1 L116.7,471.2 L118.3,471.3 L120.0,471.4 L121.6,471.4 L123.2,471.5 L124.8,471.6 L126.4,471.7 L128.0,471.8 L129.6,471.9 L131.3,472.0 L132.9,472.1 L134.5,472.2 L136.1,472.3 L137.7,472.5 L139.3,472.6 L140.8,472.7 L142.4,472.8 L144.0,473.0 L145.6,473.1 L147.2,473.2 L148.8,473.4 L150.4,473.5 L152.0,473.6 L153.6,473.8 L155.2,473.9 L156.8,474.0 L158.3,474.2 L159.9,474.3 L161.5,474.4 L163.1,474.5 L164.7,474.7 L166.3,474.8 L167.9,474.9 L169.5,475.0 L171.1,475.2 L172.7,475.3 L174.3,475.4 L175.9,475.5 L177.5,475.7 L179.0,475.8 L180.6,475.9 L182.2,476.0 L183.8,476.2 L185.4,476.3 L187.0,476.4 L188.6,476.5 L190.2,476.6 L191.8,476.8 L193.4,476.9 L195.0,477.0 L196.6,477.1 L198.2,477.2 L199.8,477.3 L201.4,477.5 L203.0,477.6 L204.6,477.7 L206.2,477.8 L207.7,477.9 L209.3,478.0 L210.9,478.1 L212.5,478.2 L214.1,478.4 L215.7,478.5 L217.3,478.6 L218.9,478.7 L220.5,478.8 L222.1,478.9 L223.7,479.0 L225.3,479.1 L226.9,479.2 L228.5,479.3 L230.1,479.5 L231.7,479.6 L233.3,479.7 L234.9,479.8 L236.5,479.9 L238.1,480.0 L239.7,480.1 L241.3,480.2 L242.9,480.3 L244.5,480.4 L246.1,480.5 L247.7,480.6 L249.3,480.7 L250.9,480.8 L252.5,480.9 L254.1,481.0 L255.7,481.1 L257.3,481.2 L258.9,481.3 L260.5,481.4 L262.0,481.5 L263.6,481.6 L265.2,481.7 L266.8,481.8 L268.4,481.9 L270.0,482.0 L271.6,482.1 L273.2,482.2 L274.8,482.3 L276.4,482.4 L278.0,482.5 L279.6,482.6 L281.2,482.7 L282.8,482.8 L284.4,482.9 L286.0,483.0 L287.6,483.1 L289.2,483.2 L290.8,483.3 L292.4,483.4 L294.0,483.5 L295.6,483.6 L297.2,483.7 L298.8,483.8 L300.4,483.9 L302.0,484.0 L303.6,484.1 L305.2,484.2 L306.8,484.3 L308.4,484.4 L310.0,484.5 L311.6,484.6 L313.2,484.7 L314.8,484.8 L316.4,484.8 L318.0,484.9 L319.6,485.0 L321.2,485.1 L322.8,485.2 L324.4,485.3 L326.0,485.4 L327.6,485.5 L329.2,485.6 L330.8,485.7 L332.4,485.8 L334.0,485.9 L335.6,486.0 L337.1,486.1 L338.7,486.2 L340.3,486.3 L341.9,486.4 L343.5,486.4 L345.1,486.5 L346.7,486.6 L348.3,486.7 L349.9,486.8 L351.5,486.9 L353.1,487.0 L354.7,487.1 L356.3,487.2" fill="none" stroke="#111" stroke-width="1.3"/>
<path d="M39.2,334.2 L39.7,335.5 L40.3,336.9 L40.7,338.2 L41.2,339.6 L41.7,341.0 L42.1,342.4 L42.5,343.8 L42.9,345.2 L43.3,346.6 L43.7,348.0 L44.1,349.4 L44.4,350.9 L44.8,352.3 L45.2,353.7 L45.6,355.1 L46.0,356.5 L46.4,357.9 L46.8,359.3 L47.3,360.6 L47.7,362.0 L48.2,363.3 L48.6,364.7 L49.1,366.0 L49.6,367.3 L50.1,368.6 L50.7,369.9 L51.2,371.2 L51.7,372.6 L52.3,373.9 L52.8,375.2 L53.4,376.5 L53.9,377.8 L54.5,379.1 L55.1,380.4 L55.7,381.8 L56.3,383.1 L56.9,384.4 L57.5,385.8 L58.1,387.2 L58.7,388.5 L59.3,389.9 L59.9,391.2 L60.6,392.6 L61.2,393.9 L61.9,395.2 L62.6,396.6 L63.3,397.9 L64.0,399.2 L64.7,400.5 L65.5,401.8 L66.2,403.1 L67.0,404.3 L67.8,405.5 L68.6,406.7 L69.4,407.9 L70.3,409.1 L71.2,410.2 L72.1,411.3 L73.0,412.4 L74.0,413.4 L75.0,414.5 L76.0,415.4 L77.0,416.4 L78.1,417.3 L79.2,418.1 L80.3,419.0 L81.5,419.8 L82.6,420.5 L83.9,421.2 L85.1,421.9 L86.4,422.5 L87.7,423.1 L89.0,423.6 L90.3,424.1 L91.7,424.6 L93.1,425.1 L94.4,425.5 L95.9,425.9 L97.3,426.3 L98.7,426.6 L100.1,426.9 L101.6,427.3 L103.0,427.5 L104.4,427.8 L105.9,428.0 L107.3,428.3 L108.8,428.5 L110.2,428.7 L111.7,428.9 L113.1,429.1 L114.5,429.3 L116.0,429.5 L117.4,429.7 L118.9,429.9 L120.3,430.1 L121.7,430.3 L123.2,430.5 L124.6,430.8 L126.0,431.0 L127.4,431.3 L128.9,431.6 L130.3,431.9 L131.7,432.1 L133.1,432.5 L134.5,432.8 L135.9,433.1 L137.3,433.4 L138.7,433.7 L140.1,434.0 L141.6,434.3 L143.0,434.6 L144.4,435.0 L145.8,435.3 L147.2,435.6 L148.6,435.8 L150.0,436.1 L151.5,436.4 L152.9,436.6 L154.3,436.9 L155.7,437.1 L157.2,437.3 L158.6,437.5 L160.0,437.7 L161.5,438.0 L162.9,438.2 L164.3,438.3 L165.8,438.5 L167.2,438.7 L168.6,438.9 L170.1,439.1 L171.5,439.3 L173.0,439.5 L174.4,439.6 L175.8,439.8 L177.3,440.0 L178.7,440.2 L180.2,440.3 L181.6,440.5 L183.0,440.7 L184.5,440.9 L185.9,441.0 L187.3,441.2 L188.8,441.4 L190.2,441.5 L191.7,441.7 L193.1,441.9 L194.5,442.0 L196.0,442.2 L197.4,442.4 L198.9,442.5 L200.3,442.7 L201.7,442.8 L203.2,443.0 L204.6,443.1 L206.1,443.3 L207.5,443.5 L208.9,443.6 L210.4,443.8 L211.8,443.9 L213.3,444.1 L214.7,444.2 L216.1,444.3 L217.6,444.5 L219.0,444.6 L220.5,444.8 L221.9,444.9 L223.4,445.1 L224.8,445.2 L226.2,445.3 L227.7,445.5 L229.1,445.6 L230.6,445.7 L232.0,445.9 L233.4,446.0 L234.9,446.1 L236.3,446.3 L237.8,446.4 L239.2,446.5 L240.7,446.6 L242.1,446.8 L243.5,446.9 L245.0,447.0 L246.4,447.1 L247.9,447.3 L249.3,447.4 L250.8,447.5 L252.2,447.6 L253.6,447.7 L255.1,447.9 L256.5,448.0 L258.0,448.1 L259.4,448.2 L260.9,448.3 L262.3,448.4 L263.7,448.5 L265.2,448.6 L266.6,448.7 L268.1,448.8 L269.5,448.9 L271.0,449.0 L272.4,449.1 L273.9,449.2 L275.3,449.3 L276.7,449.4 L278.2,449.5 L279.6,449.6 L281.1,449.7 L282.5,449.8 L284.0,449.9 L285.4,450.0 L286.9,450.1 L288.3,450.2 L289.8,450.3 L291.2,450.4 L292.6,450.5 L294.1,450.5 L295.5,450.6 L297.0,450.7 L298.4,450.8 L299.9,450.9 L301.3,450.9 L302.8,451.0 L304.2,451.1 L305.7,451.2 L307.1,451.3 L308.5,451.3 L310.0,451.4 L311.4,451.5 L312.9,451.5 L314.3,451.6 L315.8,451.7 L317.2,451.8 L318.7,451.8 L320.1,451.9 L321.6,452.0 L323.0,452.0 L324.5,452.1 L325.9,452.1 L327.3,452.2 L328.8,452.3 L330.2,452.3 L331.7,452.4 L333.1,452.4 L334.6,452.5 L336.0,452.5 L337.5,452.6 L338.9,452.7 L340.4,452.7 L341.8,452.8 L343.3,452.8 L344.7,452.8 L346.2,452.9 L347.6,452.9 L349.1,453.0 L350.5,453.0 L352.0,453.1 L353.4,453.1 L354.9,453.2 L356.3,453.2" fill="none" stroke="#111" stroke-width="1.45" stroke-dasharray="4.1 1.55"/>
<path d="M39.2,334.2 L39.5,335.9 L39.8,337.6 L40.1,339.2 L40.4,340.9 L40.7,342.6 L40.9,344.3 L41.2,346.0 L41.4,347.7 L41.6,349.4 L41.8,351.1 L42.0,352.8 L42.2,354.4 L42.4,356.1 L42.6,357.8 L42.8,359.5 L43.0,361.2 L43.2,363.0 L43.3,364.7 L43.5,366.4 L43.7,368.1 L43.9,369.8 L44.0,371.5 L44.2,373.2 L44.4,374.9 L44.5,376.6 L44.7,378.3 L44.9,380.0 L45.1,381.7 L45.3,383.4 L45.5,385.1 L45.7,386.8 L45.9,388.5 L46.1,390.2 L46.3,391.9 L46.5,393.5 L46.8,395.2 L47.0,396.9 L47.3,398.6 L47.5,400.3 L47.8,402.0 L48.1,403.7 L48.4,405.3 L48.7,407.0 L49.0,408.7 L49.3,410.4 L49.6,412.0 L49.9,413.7 L50.2,415.4 L50.6,417.1 L50.9,418.7 L51.3,420.4 L51.6,422.1 L52.0,423.7 L52.4,425.4 L52.7,427.1 L53.1,428.7 L53.5,430.4 L53.9,432.0 L54.3,433.7 L54.7,435.3 L55.1,437.0 L55.5,438.7 L56.0,440.3 L56.4,442.0 L56.8,443.6 L57.3,445.3 L57.7,446.9 L58.2,448.6 L58.7,450.2 L59.1,451.8 L59.6,453.5 L60.1,455.1 L60.7,456.7 L61.2,458.4 L61.7,460.0 L62.3,461.6 L62.9,463.2 L63.5,464.8 L64.2,466.4 L64.8,468.0 L65.5,469.6 L66.2,471.2 L67.0,472.7 L67.8,474.3 L68.6,475.8 L69.4,477.3 L70.3,478.8 L71.3,480.3 L72.2,481.7 L73.2,483.1 L74.2,484.5 L75.3,485.8 L76.4,487.1 L77.6,488.3 L78.8,489.4 L80.1,490.4 L81.4,491.4 L82.7,492.3 L84.1,493.2 L85.6,493.9 L87.0,494.6 L88.6,495.2 L90.1,495.7 L91.7,496.1 L93.4,496.5 L95.0,496.9 L96.7,497.2 L98.4,497.4 L100.1,497.6 L101.9,497.8 L103.6,497.9 L105.4,498.0 L107.1,498.1 L108.9,498.2 L110.7,498.2 L112.4,498.3 L114.2,498.3 L115.9,498.3 L117.6,498.4 L119.4,498.4 L121.1,498.4 L122.8,498.4 L124.5,498.4 L126.2,498.5 L127.9,498.5 L129.6,498.5 L131.3,498.5 L133.0,498.5 L134.7,498.5 L136.4,498.5 L138.1,498.6 L139.8,498.6 L141.5,498.6 L143.2,498.6 L144.9,498.7 L146.6,498.7 L148.3,498.7 L150.0,498.8 L151.7,498.8 L153.4,498.8 L155.1,498.9 L156.8,498.9 L158.5,499.0 L160.2,499.0 L161.9,499.1 L163.6,499.1 L165.3,499.2 L167.0,499.2 L168.7,499.3 L170.4,499.4 L172.1,499.4 L173.9,499.5 L175.6,499.5 L177.3,499.6 L179.0,499.7 L180.7,499.7 L182.4,499.8 L184.1,499.9 L185.8,500.0 L187.5,500.0 L189.2,500.1 L190.9,500.2 L192.6,500.3 L194.3,500.3 L196.0,500.4 L197.7,500.5 L199.4,500.6 L201.1,500.7 L202.9,500.8 L204.6,500.8 L206.3,500.9 L208.0,501.0 L209.7,501.1 L211.4,501.2 L213.1,501.3 L214.8,501.4 L216.5,501.5 L218.2,501.6 L219.9,501.6 L221.6,501.7 L223.3,501.8 L225.1,501.9 L226.8,502.0 L228.5,502.1 L230.2,502.2 L231.9,502.3 L233.6,502.4 L235.3,502.5 L237.0,502.6 L238.7,502.7 L240.4,502.8 L242.1,502.9 L243.8,503.0 L245.5,503.0 L247.2,503.1 L249.0,503.2 L250.7,503.3 L252.4,503.4 L254.1,503.5 L255.8,503.6 L257.5,503.7 L259.2,503.8 L260.9,503.9 L262.6,504.0 L264.3,504.1 L266.0,504.2 L267.7,504.3 L269.4,504.3 L271.1,504.4 L272.8,504.5 L274.5,504.6 L276.2,504.7 L277.9,504.8 L279.6,504.9 L281.3,505.0 L283.0,505.1 L284.8,505.2 L286.5,505.3 L288.2,505.4 L289.9,505.5 L291.6,505.6 L293.3,505.7 L295.0,505.8 L296.7,505.9 L298.4,506.0 L300.1,506.1 L301.8,506.2 L303.5,506.3 L305.2,506.4 L306.9,506.5 L308.6,506.6 L310.3,506.7 L312.0,506.8 L313.7,506.9 L315.4,507.0 L317.1,507.1 L318.8,507.2 L320.5,507.3 L322.2,507.5 L323.9,507.6 L325.6,507.7 L327.3,507.8 L329.0,507.9 L330.7,508.0 L332.4,508.2 L334.1,508.3 L335.9,508.4 L337.6,508.5 L339.3,508.7 L341.0,508.8 L342.7,508.9 L344.4,509.0 L346.1,509.2 L347.8,509.3 L349.5,509.4 L351.2,509.6 L352.9,509.7 L354.6,509.9 L356.3,510.0" fill="none" stroke="#111" stroke-width="1.45" stroke-dasharray="4.1 1.55"/>
<line x1="420.6" y1="372.7" x2="743.2" y2="372.7" stroke="#969696" stroke-width="1.7" stroke-dasharray="1 1.24"/>
<path d="M414.7,283 V517.2 H744.5" fill="none" stroke="#1a1a1a" stroke-width="1.25"/>
<line x1="414.7" y1="337.4" x2="418.8" y2="337.4" stroke="#1a1a1a" stroke-width="1.25"/>
<text x="412.6" y="341.0" text-anchor="end" class="yl">1.2</text>
<line x1="414.7" y1="372.2" x2="418.8" y2="372.2" stroke="#1a1a1a" stroke-width="1.25"/>
<text x="412.6" y="375.8" text-anchor="end" class="yl">1.0</text>
<line x1="414.7" y1="407" x2="418.8" y2="407" stroke="#1a1a1a" stroke-width="1.25"/>
<text x="412.6" y="410.6" text-anchor="end" class="yl">0.8</text>
<line x1="414.7" y1="441.85" x2="418.8" y2="441.85" stroke="#1a1a1a" stroke-width="1.25"/>
<text x="412.6" y="445.45000000000005" text-anchor="end" class="yl">0.6</text>
<line x1="414.7" y1="476.7" x2="418.8" y2="476.7" stroke="#1a1a1a" stroke-width="1.25"/>
<text x="412.6" y="480.3" text-anchor="end" class="yl">0.4</text>
<line x1="414.7" y1="511.5" x2="418.8" y2="511.5" stroke="#1a1a1a" stroke-width="1.25"/>
<text x="412.6" y="515.1" text-anchor="end" class="yl">0.2</text>
<line x1="420.60" y1="517.2" x2="420.60" y2="513.1" stroke="#1a1a1a" stroke-width="1.25"/>
<text x="420.60" y="527.7" text-anchor="middle" textLength="5.1" lengthAdjust="spacing">0</text>
<line x1="484.30" y1="517.2" x2="484.30" y2="513.1" stroke="#1a1a1a" stroke-width="1.25"/>
<text x="484.30" y="527.7" text-anchor="middle" textLength="20.6" lengthAdjust="spacing">2000</text>
<line x1="548.00" y1="517.2" x2="548.00" y2="513.1" stroke="#1a1a1a" stroke-width="1.25"/>
<text x="548.00" y="527.7" text-anchor="middle" textLength="20.6" lengthAdjust="spacing">4000</text>
<line x1="611.70" y1="517.2" x2="611.70" y2="513.1" stroke="#1a1a1a" stroke-width="1.25"/>
<text x="611.70" y="527.7" text-anchor="middle" textLength="20.6" lengthAdjust="spacing">6000</text>
<line x1="675.40" y1="517.2" x2="675.40" y2="513.1" stroke="#1a1a1a" stroke-width="1.25"/>
<text x="675.40" y="527.7" text-anchor="middle" textLength="20.6" lengthAdjust="spacing">8000</text>
<line x1="739.10" y1="517.2" x2="739.10" y2="513.1" stroke="#1a1a1a" stroke-width="1.25"/>
<text x="739.10" y="527.7" text-anchor="middle" textLength="25.6" lengthAdjust="spacing">10000</text>
<text x="579.6" y="537.8" text-anchor="middle" textLength="120" lengthAdjust="spacing">Total physical activity (METs)</text>
<text transform="translate(393,400.6) rotate(-90)" text-anchor="middle" textLength="98.5" lengthAdjust="spacing">Odds Ratios of diabetes</text>
<text x="738.6" y="315.1" text-anchor="end" textLength="159.5" lengthAdjust="spacing">Non-linear association, p-value=0.9765</text>
<text transform="translate(422,293.8) scale(1.05,1)" class="lt" style="font-size:18.5px">d</text>
<path d="M421.2,372.3 L422.4,372.7 L423.5,373.0 L424.7,373.4 L425.9,373.8 L427.0,374.1 L428.2,374.5 L429.4,374.8 L430.5,375.2 L431.7,375.5 L432.9,375.9 L434.1,376.2 L435.2,376.5 L436.4,376.9 L437.6,377.2 L438.7,377.6 L439.9,377.9 L441.1,378.2 L442.3,378.5 L443.4,378.9 L444.6,379.2 L445.8,379.5 L447.0,379.8 L448.1,380.2 L449.3,380.5 L450.5,380.8 L451.7,381.1 L452.9,381.4 L454.0,381.7 L455.2,382.0 L456.4,382.3 L457.6,382.6 L458.8,382.9 L459.9,383.2 L461.1,383.5 L462.3,383.8 L463.5,384.1 L464.7,384.4 L465.9,384.7 L467.0,385.0 L468.2,385.3 L469.4,385.6 L470.6,385.9 L471.8,386.2 L473.0,386.4 L474.2,386.7 L475.3,387.0 L476.5,387.3 L477.7,387.6 L478.9,387.9 L480.1,388.1 L481.3,388.4 L482.5,388.7 L483.6,389.0 L484.8,389.2 L486.0,389.5 L487.2,389.8 L488.4,390.0 L489.6,390.3 L490.8,390.6 L492.0,390.9 L493.2,391.1 L494.3,391.4 L495.5,391.7 L496.7,391.9 L497.9,392.2 L499.1,392.5 L500.3,392.7 L501.5,393.0 L502.7,393.2 L503.9,393.5 L505.1,393.8 L506.3,394.0 L507.4,394.3 L508.6,394.5 L509.8,394.8 L511.0,395.1 L512.2,395.3 L513.4,395.6 L514.6,395.8 L515.8,396.1 L517.0,396.4 L518.2,396.6 L519.4,396.9 L520.6,397.1 L521.7,397.4 L522.9,397.6 L524.1,397.9 L525.3,398.1 L526.5,398.4 L527.7,398.6 L528.9,398.9 L530.1,399.2 L531.3,399.4 L532.5,399.7 L533.7,399.9 L534.9,400.2 L536.1,400.4 L537.3,400.7 L538.5,400.9 L539.6,401.2 L540.8,401.4 L542.0,401.7 L543.2,401.9 L544.4,402.2 L545.6,402.4 L546.8,402.7 L548.0,402.9 L549.2,403.2 L550.4,403.4 L551.6,403.7 L552.8,403.9 L554.0,404.2 L555.2,404.4 L556.4,404.7 L557.6,404.9 L558.8,405.2 L559.9,405.4 L561.1,405.7 L562.3,405.9 L563.5,406.2 L564.7,406.4 L565.9,406.7 L567.1,406.9 L568.3,407.2 L569.5,407.4 L570.7,407.7 L571.9,407.9 L573.1,408.2 L574.3,408.4 L575.5,408.7 L576.7,409.0 L577.9,409.2 L579.0,409.5 L580.2,409.7 L581.4,410.0 L582.6,410.2 L583.8,410.5 L585.0,410.7 L586.2,411.0 L587.4,411.2 L588.6,411.5 L589.8,411.7 L591.0,412.0 L592.2,412.2 L593.4,412.5 L594.6,412.8 L595.8,413.0 L596.9,413.3 L598.1,413.5 L599.3,413.8 L600.5,414.0 L601.7,414.3 L602.9,414.5 L604.1,414.8 L605.3,415.0 L606.5,415.3 L607.7,415.6 L608.9,415.8 L610.1,416.1 L611.3,416.3 L612.5,416.6 L613.7,416.8 L614.8,417.1 L616.0,417.3 L617.2,417.6 L618.4,417.8 L619.6,418.1 L620.8,418.3 L622.0,418.6 L623.2,418.8 L624.4,419.1 L625.6,419.3 L626.8,419.6 L628.0,419.8 L629.2,420.1 L630.4,420.3 L631.6,420.6 L632.8,420.8 L633.9,421.1 L635.1,421.3 L636.3,421.6 L637.5,421.8 L638.7,422.0 L639.9,422.3 L641.1,422.5 L642.3,422.8 L643.5,423.0 L644.7,423.3 L645.9,423.5 L647.1,423.8 L648.3,424.0 L649.5,424.2 L650.7,424.5 L651.9,424.7 L653.1,424.9 L654.3,425.2 L655.5,425.4 L656.7,425.7 L657.9,425.9 L659.1,426.1 L660.3,426.4 L661.4,426.6 L662.6,426.8 L663.8,427.1 L665.0,427.3 L666.2,427.5 L667.4,427.7 L668.6,428.0 L669.8,428.2 L671.0,428.4 L672.2,428.7 L673.4,428.9 L674.6,429.1 L675.8,429.3 L677.0,429.6 L678.2,429.8 L679.4,430.0 L680.6,430.2 L681.8,430.4 L683.0,430.6 L684.2,430.9 L685.4,431.1 L686.6,431.3 L687.8,431.5 L689.0,431.7 L690.2,431.9 L691.4,432.1 L692.6,432.3 L693.8,432.6 L695.0,432.8 L696.2,433.0 L697.4,433.2 L698.6,433.4 L699.8,433.6 L701.0,433.8 L702.2,434.0 L703.5,434.2 L704.7,434.4 L705.9,434.6 L707.1,434.8 L708.3,435.0 L709.5,435.1 L710.7,435.3 L711.9,435.5 L713.1,435.7 L714.3,435.9 L715.5,436.1 L716.7,436.3 L717.9,436.5 L719.1,436.6 L720.3,436.8 L721.5,437.0 L722.7,437.2 L724.0,437.3 L725.2,437.5 L726.4,437.7 L727.6,437.9 L728.8,438.0 L730.0,438.2" fill="none" stroke="#111" stroke-width="1.45"/>
<path d="M421.0,372.2 L421.4,370.8 L421.8,369.4 L422.2,368.0 L422.6,366.6 L423.0,365.2 L423.4,363.8 L423.9,362.4 L424.3,361.1 L424.7,359.7 L425.2,358.3 L425.6,356.9 L426.1,355.5 L426.5,354.2 L427.0,352.8 L427.4,351.4 L427.9,350.1 L428.4,348.7 L428.9,347.3 L429.3,346.0 L429.8,344.6 L430.3,343.3 L430.8,341.9 L431.3,340.6 L431.8,339.2 L432.3,337.9 L432.8,336.5 L433.4,335.2 L433.9,333.8 L434.4,332.5 L434.9,331.1 L435.5,329.8 L436.0,328.5 L436.6,327.1 L437.1,325.8 L437.7,324.4 L438.2,323.1 L438.8,321.8 L439.4,320.4 L440.0,319.1 L440.5,317.8 L441.2,316.4 L441.8,315.1 L442.4,313.8 L443.1,312.5 L443.8,311.2 L444.5,310.0 L445.2,308.7 L446.0,307.4 L446.8,306.2 L447.6,305.0 L448.5,303.8 L449.3,302.6 L450.3,301.4 L451.2,300.2 L452.2,299.1 L453.3,298.0 L454.3,297.0 L455.4,296.0 L456.6,295.0 L457.7,294.1 L458.9,293.3 L460.1,292.6 L461.3,291.9 L462.6,291.4 L463.8,290.9 L465.1,290.5 L466.4,290.3 L467.7,290.1 L469.1,290.1 L470.4,290.1 L471.7,290.2 L473.1,290.5 L474.5,290.7 L475.8,291.1 L477.2,291.5 L478.6,292.0 L480.0,292.5 L481.3,293.1 L482.7,293.7 L484.1,294.4 L485.5,295.0 L486.8,295.7 L488.2,296.4 L489.5,297.0 L490.9,297.7 L492.2,298.4 L493.5,299.1 L494.8,299.7 L496.1,300.4 L497.4,301.1 L498.7,301.7 L500.0,302.4 L501.3,303.0 L502.6,303.6 L503.8,304.3 L505.1,304.9 L506.4,305.6 L507.7,306.2 L509.0,306.8 L510.2,307.5 L511.5,308.1 L512.8,308.7 L514.1,309.3 L515.4,310.0 L516.7,310.6 L518.0,311.2 L519.3,311.8 L520.6,312.4 L522.0,313.0 L523.3,313.7 L524.6,314.3 L525.9,314.9 L527.2,315.5 L528.5,316.1 L529.9,316.7 L531.2,317.2 L532.5,317.8 L533.8,318.4 L535.2,319.0 L536.5,319.6 L537.8,320.1 L539.2,320.7 L540.5,321.3 L541.8,321.8 L543.2,322.4 L544.5,323.0 L545.9,323.5 L547.2,324.1 L548.6,324.6 L549.9,325.1 L551.3,325.7 L552.6,326.2 L554.0,326.7 L555.3,327.3 L556.7,327.8 L558.0,328.3 L559.4,328.8 L560.7,329.3 L562.1,329.8 L563.5,330.3 L564.8,330.8 L566.2,331.3 L567.5,331.8 L568.9,332.3 L570.3,332.7 L571.6,333.2 L573.0,333.7 L574.4,334.2 L575.7,334.6 L577.1,335.1 L578.5,335.6 L579.9,336.0 L581.2,336.5 L582.6,337.0 L584.0,337.4 L585.4,337.9 L586.7,338.3 L588.1,338.7 L589.5,339.2 L590.9,339.6 L592.2,340.1 L593.6,340.5 L595.0,340.9 L596.4,341.4 L597.8,341.8 L599.1,342.2 L600.5,342.7 L601.9,343.1 L603.3,343.5 L604.7,343.9 L606.1,344.4 L607.5,344.8 L608.8,345.2 L610.2,345.6 L611.6,346.0 L613.0,346.5 L614.4,346.9 L615.8,347.3 L617.2,347.7 L618.5,348.1 L619.9,348.5 L621.3,348.9 L622.7,349.3 L624.1,349.8 L625.5,350.2 L626.9,350.6 L628.3,351.0 L629.7,351.4 L631.1,351.8 L632.4,352.2 L633.8,352.6 L635.2,353.0 L636.6,353.4 L638.0,353.8 L639.4,354.2 L640.8,354.7 L642.2,355.1 L643.6,355.5 L645.0,355.9 L646.3,356.3 L647.7,356.7 L649.1,357.1 L650.5,357.5 L651.9,357.9 L653.3,358.4 L654.7,358.8 L656.1,359.2 L657.5,359.6 L658.9,360.0 L660.3,360.4 L661.6,360.8 L663.0,361.2 L664.4,361.6 L665.8,362.0 L667.2,362.4 L668.6,362.8 L670.0,363.2 L671.4,363.6 L672.8,364.0 L674.2,364.4 L675.6,364.8 L677.0,365.1 L678.4,365.5 L679.8,365.9 L681.2,366.3 L682.6,366.6 L684.0,367.0 L685.4,367.4 L686.8,367.7 L688.2,368.1 L689.6,368.5 L691.0,368.8 L692.4,369.2 L693.8,369.5 L695.2,369.9 L696.6,370.2 L698.0,370.5 L699.4,370.9 L700.8,371.2 L702.2,371.5 L703.7,371.8 L705.1,372.1 L706.5,372.4 L707.9,372.7 L709.3,373.0 L710.7,373.3 L712.2,373.6 L713.6,373.9 L715.0,374.2 L716.4,374.4 L717.9,374.7 L719.3,375.0 L720.7,375.2 L722.1,375.5 L723.6,375.7 L725.0,375.9 L726.4,376.2 L727.9,376.4 L729.3,376.6" fill="none" stroke="#111" stroke-width="1.45" stroke-dasharray="4.1 1.55"/>
<path d="M421.2,372.3 L421.5,373.6 L421.9,375.0 L422.2,376.3 L422.6,377.6 L422.9,378.9 L423.3,380.2 L423.7,381.6 L424.0,382.9 L424.4,384.2 L424.8,385.5 L425.2,386.8 L425.6,388.1 L426.0,389.4 L426.4,390.7 L426.8,392.0 L427.3,393.2 L427.7,394.5 L428.2,395.8 L428.6,397.1 L429.1,398.3 L429.6,399.6 L430.1,400.9 L430.6,402.1 L431.1,403.4 L431.6,404.6 L432.2,405.9 L432.7,407.1 L433.3,408.4 L433.9,409.6 L434.5,410.9 L435.1,412.1 L435.7,413.3 L436.3,414.6 L437.0,415.8 L437.6,417.0 L438.3,418.2 L439.0,419.4 L439.7,420.6 L440.4,421.8 L441.2,423.0 L441.9,424.1 L442.7,425.3 L443.5,426.4 L444.4,427.5 L445.2,428.6 L446.1,429.6 L447.0,430.7 L447.9,431.7 L448.8,432.6 L449.8,433.6 L450.8,434.5 L451.8,435.4 L452.8,436.2 L453.9,437.0 L455.0,437.8 L456.1,438.6 L457.3,439.3 L458.4,439.9 L459.6,440.6 L460.8,441.2 L462.0,441.8 L463.3,442.3 L464.5,442.9 L465.8,443.4 L467.0,443.9 L468.3,444.3 L469.6,444.7 L470.9,445.1 L472.2,445.5 L473.5,445.9 L474.8,446.2 L476.1,446.6 L477.4,446.9 L478.7,447.2 L480.1,447.4 L481.4,447.7 L482.7,447.9 L484.1,448.2 L485.4,448.4 L486.8,448.6 L488.1,448.8 L489.5,449.0 L490.8,449.1 L492.2,449.3 L493.5,449.4 L494.9,449.6 L496.3,449.7 L497.6,449.8 L499.0,449.9 L500.4,450.1 L501.7,450.2 L503.1,450.3 L504.5,450.4 L505.9,450.5 L507.2,450.6 L508.6,450.7 L510.0,450.8 L511.4,450.9 L512.7,451.0 L514.1,451.1 L515.5,451.2 L516.8,451.3 L518.2,451.4 L519.6,451.6 L520.9,451.7 L522.3,451.8 L523.7,451.9 L525.0,452.1 L526.4,452.2 L527.7,452.4 L529.1,452.5 L530.4,452.7 L531.8,452.8 L533.2,453.0 L534.5,453.1 L535.9,453.3 L537.2,453.5 L538.6,453.6 L539.9,453.8 L541.3,454.0 L542.6,454.1 L544.0,454.3 L545.3,454.5 L546.7,454.7 L548.0,454.8 L549.4,455.0 L550.7,455.2 L552.1,455.4 L553.4,455.5 L554.8,455.7 L556.1,455.9 L557.5,456.1 L558.8,456.3 L560.2,456.5 L561.5,456.6 L562.9,456.8 L564.2,457.0 L565.5,457.2 L566.9,457.4 L568.2,457.5 L569.6,457.7 L570.9,457.9 L572.3,458.1 L573.6,458.3 L575.0,458.4 L576.3,458.6 L577.7,458.8 L579.0,459.0 L580.4,459.2 L581.7,459.4 L583.1,459.5 L584.4,459.7 L585.8,459.9 L587.1,460.1 L588.5,460.3 L589.8,460.4 L591.2,460.6 L592.6,460.8 L593.9,461.0 L595.3,461.2 L596.6,461.3 L598.0,461.5 L599.3,461.7 L600.7,461.9 L602.0,462.1 L603.4,462.2 L604.7,462.4 L606.1,462.6 L607.4,462.8 L608.8,463.0 L610.1,463.1 L611.5,463.3 L612.8,463.5 L614.2,463.7 L615.5,463.8 L616.9,464.0 L618.2,464.2 L619.6,464.4 L620.9,464.6 L622.3,464.7 L623.6,464.9 L625.0,465.1 L626.4,465.3 L627.7,465.4 L629.1,465.6 L630.4,465.8 L631.8,466.0 L633.1,466.1 L634.5,466.3 L635.8,466.5 L637.2,466.7 L638.5,466.8 L639.9,467.0 L641.2,467.2 L642.6,467.3 L643.9,467.5 L645.3,467.7 L646.7,467.9 L648.0,468.0 L649.4,468.2 L650.7,468.4 L652.1,468.5 L653.4,468.7 L654.8,468.9 L656.1,469.1 L657.5,469.2 L658.8,469.4 L660.2,469.6 L661.6,469.7 L662.9,469.9 L664.3,470.1 L665.6,470.2 L667.0,470.4 L668.3,470.6 L669.7,470.7 L671.0,470.9 L672.4,471.0 L673.7,471.2 L675.1,471.4 L676.5,471.5 L677.8,471.7 L679.2,471.9 L680.5,472.0 L681.9,472.2 L683.2,472.3 L684.6,472.5 L685.9,472.7 L687.3,472.8 L688.6,473.0 L690.0,473.1 L691.4,473.3 L692.7,473.4 L694.1,473.6 L695.4,473.7 L696.8,473.9 L698.1,474.1 L699.5,474.2 L700.8,474.4 L702.2,474.5 L703.6,474.7 L704.9,474.8 L706.3,475.0 L707.6,475.1 L709.0,475.3 L710.3,475.4 L711.7,475.5 L713.0,475.7 L714.4,475.8 L715.7,476.0 L717.1,476.1 L718.5,476.3 L719.8,476.4 L721.2,476.6 L722.5,476.7 L723.9,476.8 L725.2,477.0 L726.6,477.1 L727.9,477.3 L729.3,477.4" fill="none" stroke="#111" stroke-width="1.45" stroke-dasharray="4.1 1.55"/>
<line x1="242.5" y1="607.4" x2="564.8" y2="607.4" stroke="#555" stroke-width="1.0" stroke-dasharray="0.95 1.0"/>
<path d="M236.7,561.75 V795.2 H566.9" fill="none" stroke="#1a1a1a" stroke-width="1.25"/>
<line x1="236.7" y1="568" x2="240.7" y2="568" stroke="#1a1a1a" stroke-width="1.25"/>
<text x="234.6" y="571.2" text-anchor="end" class="yl">1.2</text>
<line x1="236.7" y1="607.4" x2="240.7" y2="607.4" stroke="#1a1a1a" stroke-width="1.25"/>
<text x="234.6" y="610.6" text-anchor="end" class="yl">1.0</text>
<line x1="236.7" y1="646.9" x2="240.7" y2="646.9" stroke="#1a1a1a" stroke-width="1.25"/>
<text x="234.6" y="650.1" text-anchor="end" class="yl">0.8</text>
<line x1="236.7" y1="686.3" x2="240.7" y2="686.3" stroke="#1a1a1a" stroke-width="1.25"/>
<text x="234.6" y="689.5" text-anchor="end" class="yl">0.6</text>
<line x1="236.7" y1="725.8" x2="240.7" y2="725.8" stroke="#1a1a1a" stroke-width="1.25"/>
<text x="234.6" y="729.0" text-anchor="end" class="yl">0.4</text>
<line x1="236.7" y1="765.3" x2="240.7" y2="765.3" stroke="#1a1a1a" stroke-width="1.25"/>
<text x="234.6" y="768.5" text-anchor="end" class="yl">0.2</text>
<line x1="242.50" y1="795.2" x2="242.50" y2="791.2" stroke="#1a1a1a" stroke-width="1.25"/>
<text x="242.50" y="806.2" text-anchor="middle" textLength="5.1" lengthAdjust="spacing">0</text>
<line x1="306.30" y1="795.2" x2="306.30" y2="791.2" stroke="#1a1a1a" stroke-width="1.25"/>
<text x="306.30" y="806.2" text-anchor="middle" textLength="20.6" lengthAdjust="spacing">2000</text>
<line x1="370.10" y1="795.2" x2="370.10" y2="791.2" stroke="#1a1a1a" stroke-width="1.25"/>
<text x="370.10" y="806.2" text-anchor="middle" textLength="20.6" lengthAdjust="spacing">4000</text>
<line x1="433.90" y1="795.2" x2="433.90" y2="791.2" stroke="#1a1a1a" stroke-width="1.25"/>
<text x="433.90" y="806.2" text-anchor="middle" textLength="20.6" lengthAdjust="spacing">6000</text>
<line x1="497.70" y1="795.2" x2="497.70" y2="791.2" stroke="#1a1a1a" stroke-width="1.25"/>
<text x="497.70" y="806.2" text-anchor="middle" textLength="20.6" lengthAdjust="spacing">8000</text>
<line x1="561.50" y1="795.2" x2="561.50" y2="791.2" stroke="#1a1a1a" stroke-width="1.25"/>
<text x="561.50" y="806.2" text-anchor="middle" textLength="25.6" lengthAdjust="spacing">10000</text>
<text x="401.9" y="815.4" text-anchor="middle" textLength="119.9" lengthAdjust="spacing">Total physical activity (METs)</text>
<text transform="translate(215.5,679.1) rotate(-90)" text-anchor="middle" textLength="99.9" lengthAdjust="spacing">Odds Ratios of diabetes</text>
<text x="538.3" y="589.1" text-anchor="end" textLength="162.6" lengthAdjust="spacing">Non-linear association, p-value=0.1446</text>
<text transform="translate(247.7,572.7) scale(1.05,1)" class="lt" style="font-size:18.5px">e</text>
<path d="M242.5,607.5 L242.8,609.0 L243.1,610.4 L243.3,611.8 L243.6,613.3 L243.9,614.7 L244.2,616.2 L244.4,617.6 L244.7,619.1 L245.0,620.5 L245.3,621.9 L245.5,623.4 L245.8,624.8 L246.1,626.2 L246.3,627.7 L246.6,629.1 L246.9,630.5 L247.2,632.0 L247.5,633.4 L247.8,634.8 L248.0,636.3 L248.3,637.7 L248.6,639.1 L248.9,640.6 L249.3,642.0 L249.6,643.4 L249.9,644.9 L250.2,646.3 L250.6,647.7 L250.9,649.2 L251.3,650.6 L251.6,652.0 L252.0,653.5 L252.4,654.9 L252.8,656.4 L253.2,657.8 L253.6,659.2 L254.0,660.7 L254.4,662.1 L254.9,663.6 L255.3,665.0 L255.8,666.4 L256.3,667.8 L256.8,669.3 L257.3,670.7 L257.9,672.1 L258.4,673.4 L259.0,674.8 L259.6,676.2 L260.2,677.5 L260.9,678.8 L261.5,680.1 L262.2,681.4 L262.9,682.7 L263.6,683.9 L264.4,685.2 L265.2,686.4 L266.0,687.5 L266.8,688.7 L267.7,689.8 L268.6,690.9 L269.5,692.0 L270.5,693.0 L271.5,694.0 L272.5,695.0 L273.6,695.9 L274.7,696.8 L275.8,697.7 L277.0,698.5 L278.2,699.3 L279.4,700.1 L280.6,700.8 L281.9,701.5 L283.2,702.2 L284.5,702.8 L285.8,703.4 L287.2,704.1 L288.6,704.6 L289.9,705.2 L291.3,705.8 L292.7,706.3 L294.1,706.8 L295.5,707.3 L296.9,707.8 L298.4,708.3 L299.8,708.7 L301.2,709.2 L302.6,709.7 L304.0,710.1 L305.4,710.6 L306.8,711.0 L308.3,711.4 L309.7,711.9 L311.1,712.3 L312.5,712.7 L313.9,713.1 L315.3,713.5 L316.8,714.0 L318.2,714.4 L319.6,714.8 L321.0,715.2 L322.4,715.6 L323.8,716.1 L325.2,716.5 L326.6,716.9 L328.0,717.4 L329.4,717.8 L330.8,718.2 L332.2,718.7 L333.6,719.1 L335.0,719.6 L336.4,720.0 L337.8,720.5 L339.2,720.9 L340.6,721.4 L342.0,721.8 L343.4,722.2 L344.8,722.7 L346.2,723.1 L347.6,723.6 L349.0,724.0 L350.4,724.5 L351.8,724.9 L353.2,725.4 L354.6,725.8 L356.0,726.2 L357.4,726.7 L358.8,727.1 L360.2,727.6 L361.6,728.0 L363.0,728.4 L364.4,728.8 L365.8,729.3 L367.2,729.7 L368.6,730.1 L370.0,730.5 L371.4,730.9 L372.9,731.3 L374.3,731.8 L375.7,732.2 L377.1,732.6 L378.5,733.0 L379.9,733.4 L381.3,733.8 L382.7,734.1 L384.1,734.5 L385.6,734.9 L387.0,735.3 L388.4,735.7 L389.8,736.1 L391.2,736.4 L392.6,736.8 L394.1,737.2 L395.5,737.6 L396.9,737.9 L398.3,738.3 L399.7,738.7 L401.2,739.0 L402.6,739.4 L404.0,739.7 L405.4,740.1 L406.9,740.4 L408.3,740.8 L409.7,741.1 L411.1,741.5 L412.6,741.8 L414.0,742.2 L415.4,742.5 L416.9,742.8 L418.3,743.2 L419.7,743.5 L421.1,743.8 L422.6,744.2 L424.0,744.5 L425.4,744.8 L426.9,745.1 L428.3,745.4 L429.7,745.8 L431.2,746.1 L432.6,746.4 L434.1,746.7 L435.5,747.0 L436.9,747.3 L438.4,747.6 L439.8,747.9 L441.2,748.2 L442.7,748.5 L444.1,748.8 L445.6,749.1 L447.0,749.4 L448.4,749.7 L449.9,750.0 L451.3,750.3 L452.8,750.6 L454.2,750.8 L455.6,751.1 L457.1,751.4 L458.5,751.7 L460.0,752.0 L461.4,752.2 L462.9,752.5 L464.3,752.8 L465.7,753.0 L467.2,753.3 L468.6,753.6 L470.1,753.8 L471.5,754.1 L473.0,754.4 L474.4,754.6 L475.9,754.9 L477.3,755.2 L478.8,755.4 L480.2,755.7 L481.7,755.9 L483.1,756.2 L484.6,756.4 L486.0,756.7 L487.5,756.9 L488.9,757.2 L490.4,757.4 L491.8,757.7 L493.3,757.9 L494.7,758.1 L496.2,758.4 L497.6,758.6 L499.1,758.9 L500.5,759.1 L502.0,759.3 L503.4,759.6 L504.9,759.8 L506.3,760.0 L507.8,760.3 L509.2,760.5 L510.7,760.7 L512.1,760.9 L513.6,761.2 L515.0,761.4 L516.5,761.6 L517.9,761.8 L519.4,762.1 L520.8,762.3 L522.3,762.5 L523.7,762.7 L525.2,762.9 L526.6,763.2 L528.1,763.4 L529.5,763.6 L531.0,763.8 L532.4,764.0 L533.9,764.2 L535.3,764.4 L536.8,764.6 L538.2,764.9 L539.7,765.1 L541.1,765.3 L542.6,765.5 L544.0,765.7 L545.5,765.9 L546.9,766.1 L548.4,766.3" fill="none" stroke="#111" stroke-width="1.3"/>
<path d="M242.6,607.5 L243.7,606.5 L244.8,605.6 L245.9,604.8 L247.1,604.1 L248.3,603.5 L249.5,602.9 L250.7,602.4 L251.9,602.0 L253.1,601.7 L254.4,601.5 L255.6,601.3 L256.8,601.3 L258.1,601.2 L259.3,601.3 L260.5,601.4 L261.7,601.6 L263.0,601.9 L264.1,602.2 L265.3,602.6 L266.5,603.0 L267.6,603.5 L268.7,604.1 L269.8,604.7 L270.9,605.3 L271.9,606.0 L273.0,606.7 L274.0,607.5 L275.0,608.3 L276.1,609.1 L277.1,610.0 L278.0,610.9 L279.0,611.7 L280.0,612.6 L281.0,613.5 L282.0,614.4 L282.9,615.3 L283.9,616.2 L284.9,617.1 L285.8,618.0 L286.8,618.9 L287.8,619.8 L288.7,620.6 L289.7,621.5 L290.7,622.4 L291.7,623.2 L292.6,624.1 L293.6,625.0 L294.6,625.8 L295.6,626.6 L296.5,627.5 L297.5,628.3 L298.5,629.2 L299.5,630.0 L300.5,630.8 L301.4,631.6 L302.4,632.5 L303.4,633.3 L304.4,634.1 L305.4,634.9 L306.4,635.7 L307.4,636.5 L308.4,637.3 L309.4,638.1 L310.4,638.9 L311.4,639.7 L312.5,640.5 L313.5,641.2 L314.5,642.0 L315.5,642.8 L316.6,643.6 L317.6,644.3 L318.6,645.1 L319.7,645.9 L320.7,646.6 L321.8,647.4 L322.8,648.1 L323.9,648.9 L325.0,649.6 L326.0,650.3 L327.1,651.1 L328.2,651.8 L329.3,652.5 L330.3,653.2 L331.4,653.9 L332.5,654.7 L333.6,655.4 L334.7,656.0 L335.8,656.7 L336.9,657.4 L338.0,658.1 L339.1,658.8 L340.3,659.4 L341.4,660.1 L342.5,660.7 L343.6,661.4 L344.8,662.0 L345.9,662.6 L347.0,663.3 L348.2,663.9 L349.3,664.5 L350.5,665.1 L351.6,665.7 L352.8,666.3 L353.9,666.8 L355.1,667.4 L356.3,668.0 L357.4,668.5 L358.6,669.1 L359.8,669.6 L361.0,670.1 L362.1,670.7 L363.3,671.2 L364.5,671.7 L365.7,672.2 L366.9,672.7 L368.1,673.2 L369.3,673.7 L370.5,674.2 L371.7,674.6 L372.9,675.1 L374.1,675.6 L375.3,676.0 L376.5,676.5 L377.7,676.9 L378.9,677.4 L380.2,677.8 L381.4,678.3 L382.6,678.7 L383.8,679.1 L385.0,679.5 L386.3,679.9 L387.5,680.4 L388.7,680.8 L389.9,681.2 L391.2,681.6 L392.4,682.0 L393.6,682.4 L394.9,682.7 L396.1,683.1 L397.3,683.5 L398.6,683.9 L399.8,684.2 L401.0,684.6 L402.3,685.0 L403.5,685.3 L404.8,685.7 L406.0,686.0 L407.2,686.4 L408.5,686.7 L409.7,687.0 L411.0,687.4 L412.2,687.7 L413.5,688.0 L414.7,688.4 L416.0,688.7 L417.2,689.0 L418.5,689.3 L419.7,689.6 L421.0,689.9 L422.2,690.2 L423.5,690.5 L424.8,690.8 L426.0,691.1 L427.3,691.4 L428.5,691.7 L429.8,691.9 L431.1,692.2 L432.3,692.5 L433.6,692.8 L434.8,693.0 L436.1,693.3 L437.4,693.6 L438.6,693.8 L439.9,694.1 L441.2,694.3 L442.4,694.6 L443.7,694.8 L445.0,695.1 L446.3,695.3 L447.5,695.5 L448.8,695.8 L450.1,696.0 L451.3,696.2 L452.6,696.5 L453.9,696.7 L455.2,696.9 L456.4,697.1 L457.7,697.4 L459.0,697.6 L460.3,697.8 L461.5,698.0 L462.8,698.2 L464.1,698.4 L465.4,698.6 L466.7,698.8 L467.9,699.0 L469.2,699.2 L470.5,699.4 L471.8,699.6 L473.1,699.8 L474.3,699.9 L475.6,700.1 L476.9,700.3 L478.2,700.5 L479.5,700.7 L480.8,700.8 L482.0,701.0 L483.3,701.2 L484.6,701.4 L485.9,701.5 L487.2,701.7 L488.5,701.9 L489.7,702.0 L491.0,702.2 L492.3,702.3 L493.6,702.5 L494.9,702.6 L496.2,702.8 L497.5,703.0 L498.8,703.1 L500.0,703.3 L501.3,703.4 L502.6,703.5 L503.9,703.7 L505.2,703.8 L506.5,704.0 L507.8,704.1 L509.0,704.3 L510.3,704.4 L511.6,704.5 L512.9,704.7 L514.2,704.8 L515.5,704.9 L516.8,705.1 L518.1,705.2 L519.3,705.3 L520.6,705.5 L521.9,705.6 L523.2,705.7 L524.5,705.8 L525.8,706.0 L527.1,706.1 L528.4,706.2 L529.6,706.3 L530.9,706.5 L532.2,706.6 L533.5,706.7 L534.8,706.8 L536.1,706.9 L537.3,707.1 L538.6,707.2 L539.9,707.3 L541.2,707.4 L542.5,707.5 L543.8,707.6 L545.1,707.8 L546.3,707.9 L547.6,708.0 L548.9,708.1" fill="none" stroke="#111" stroke-width="1.45" stroke-dasharray="4.1 1.55"/>
<path d="M242.5,607.5 L242.7,609.1 L242.8,610.7 L243.0,612.3 L243.1,614.0 L243.3,615.6 L243.4,617.2 L243.6,618.8 L243.7,620.4 L243.8,622.1 L244.0,623.7 L244.1,625.3 L244.3,626.9 L244.4,628.6 L244.6,630.2 L244.7,631.8 L244.9,633.5 L245.0,635.1 L245.2,636.7 L245.3,638.4 L245.5,640.0 L245.6,641.6 L245.8,643.3 L245.9,644.9 L246.1,646.5 L246.2,648.2 L246.4,649.8 L246.6,651.4 L246.7,653.1 L246.9,654.7 L247.1,656.3 L247.3,657.9 L247.4,659.6 L247.6,661.2 L247.8,662.8 L248.0,664.4 L248.2,666.0 L248.4,667.6 L248.6,669.3 L248.8,670.9 L249.0,672.5 L249.2,674.1 L249.4,675.7 L249.7,677.3 L249.9,678.9 L250.1,680.5 L250.4,682.1 L250.6,683.7 L250.9,685.3 L251.1,686.9 L251.4,688.5 L251.7,690.1 L252.0,691.7 L252.3,693.3 L252.6,694.9 L252.9,696.5 L253.2,698.1 L253.5,699.7 L253.8,701.3 L254.2,702.9 L254.5,704.5 L254.9,706.0 L255.2,707.6 L255.6,709.2 L256.0,710.8 L256.4,712.4 L256.8,714.0 L257.2,715.7 L257.7,717.3 L258.1,718.9 L258.6,720.5 L259.1,722.1 L259.6,723.7 L260.1,725.3 L260.7,726.9 L261.3,728.4 L261.9,730.0 L262.6,731.6 L263.3,733.1 L264.0,734.6 L264.8,736.1 L265.7,737.5 L266.6,738.8 L267.6,740.1 L268.6,741.3 L269.7,742.3 L270.9,743.3 L272.1,744.2 L273.4,745.0 L274.8,745.7 L276.2,746.3 L277.6,746.9 L279.1,747.4 L280.6,747.9 L282.2,748.3 L283.8,748.7 L285.4,749.0 L287.0,749.3 L288.6,749.6 L290.2,749.9 L291.9,750.2 L293.5,750.5 L295.1,750.8 L296.7,751.0 L298.4,751.3 L300.0,751.6 L301.6,751.9 L303.2,752.2 L304.9,752.5 L306.5,752.7 L308.1,753.0 L309.7,753.3 L311.3,753.6 L312.9,753.8 L314.6,754.1 L316.2,754.4 L317.8,754.7 L319.4,754.9 L321.0,755.2 L322.6,755.5 L324.2,755.8 L325.8,756.0 L327.4,756.3 L329.0,756.6 L330.6,756.9 L332.3,757.1 L333.9,757.4 L335.5,757.7 L337.1,758.0 L338.7,758.2 L340.3,758.5 L341.9,758.8 L343.5,759.1 L345.1,759.3 L346.7,759.6 L348.3,759.9 L349.9,760.1 L351.5,760.4 L353.1,760.7 L354.7,761.0 L356.3,761.2 L358.0,761.5 L359.6,761.8 L361.2,762.0 L362.8,762.3 L364.4,762.6 L366.0,762.8 L367.6,763.1 L369.2,763.4 L370.8,763.6 L372.4,763.9 L374.0,764.2 L375.6,764.4 L377.2,764.7 L378.9,765.0 L380.5,765.2 L382.1,765.5 L383.7,765.8 L385.3,766.0 L386.9,766.3 L388.5,766.6 L390.1,766.8 L391.7,767.1 L393.3,767.4 L394.9,767.6 L396.6,767.9 L398.2,768.1 L399.8,768.4 L401.4,768.7 L403.0,768.9 L404.6,769.2 L406.2,769.5 L407.8,769.7 L409.4,770.0 L411.1,770.2 L412.7,770.5 L414.3,770.7 L415.9,771.0 L417.5,771.3 L419.1,771.5 L420.7,771.8 L422.3,772.0 L423.9,772.3 L425.6,772.5 L427.2,772.8 L428.8,773.0 L430.4,773.3 L432.0,773.5 L433.6,773.8 L435.2,774.0 L436.8,774.3 L438.5,774.5 L440.1,774.8 L441.7,775.0 L443.3,775.3 L444.9,775.5 L446.5,775.8 L448.1,776.0 L449.8,776.2 L451.4,776.5 L453.0,776.7 L454.6,777.0 L456.2,777.2 L457.8,777.4 L459.4,777.7 L461.1,777.9 L462.7,778.2 L464.3,778.4 L465.9,778.6 L467.5,778.9 L469.1,779.1 L470.7,779.3 L472.4,779.6 L474.0,779.8 L475.6,780.0 L477.2,780.3 L478.8,780.5 L480.4,780.7 L482.1,780.9 L483.7,781.2 L485.3,781.4 L486.9,781.6 L488.5,781.8 L490.1,782.1 L491.8,782.3 L493.4,782.5 L495.0,782.7 L496.6,782.9 L498.2,783.2 L499.8,783.4 L501.5,783.6 L503.1,783.8 L504.7,784.0 L506.3,784.2 L507.9,784.4 L509.5,784.7 L511.2,784.9 L512.8,785.1 L514.4,785.3 L516.0,785.5 L517.6,785.7 L519.3,785.9 L520.9,786.1 L522.5,786.3 L524.1,786.5 L525.7,786.7 L527.3,786.9 L529.0,787.1 L530.6,787.3 L532.2,787.5 L533.8,787.7 L535.4,787.9 L537.1,788.1 L538.7,788.3 L540.3,788.5 L541.9,788.6 L543.5,788.8 L545.2,789.0 L546.8,789.2 L548.4,789.4" fill="none" stroke="#111" stroke-width="1.45" stroke-dasharray="4.1 1.55"/>
</svg>
</body>
</html>
